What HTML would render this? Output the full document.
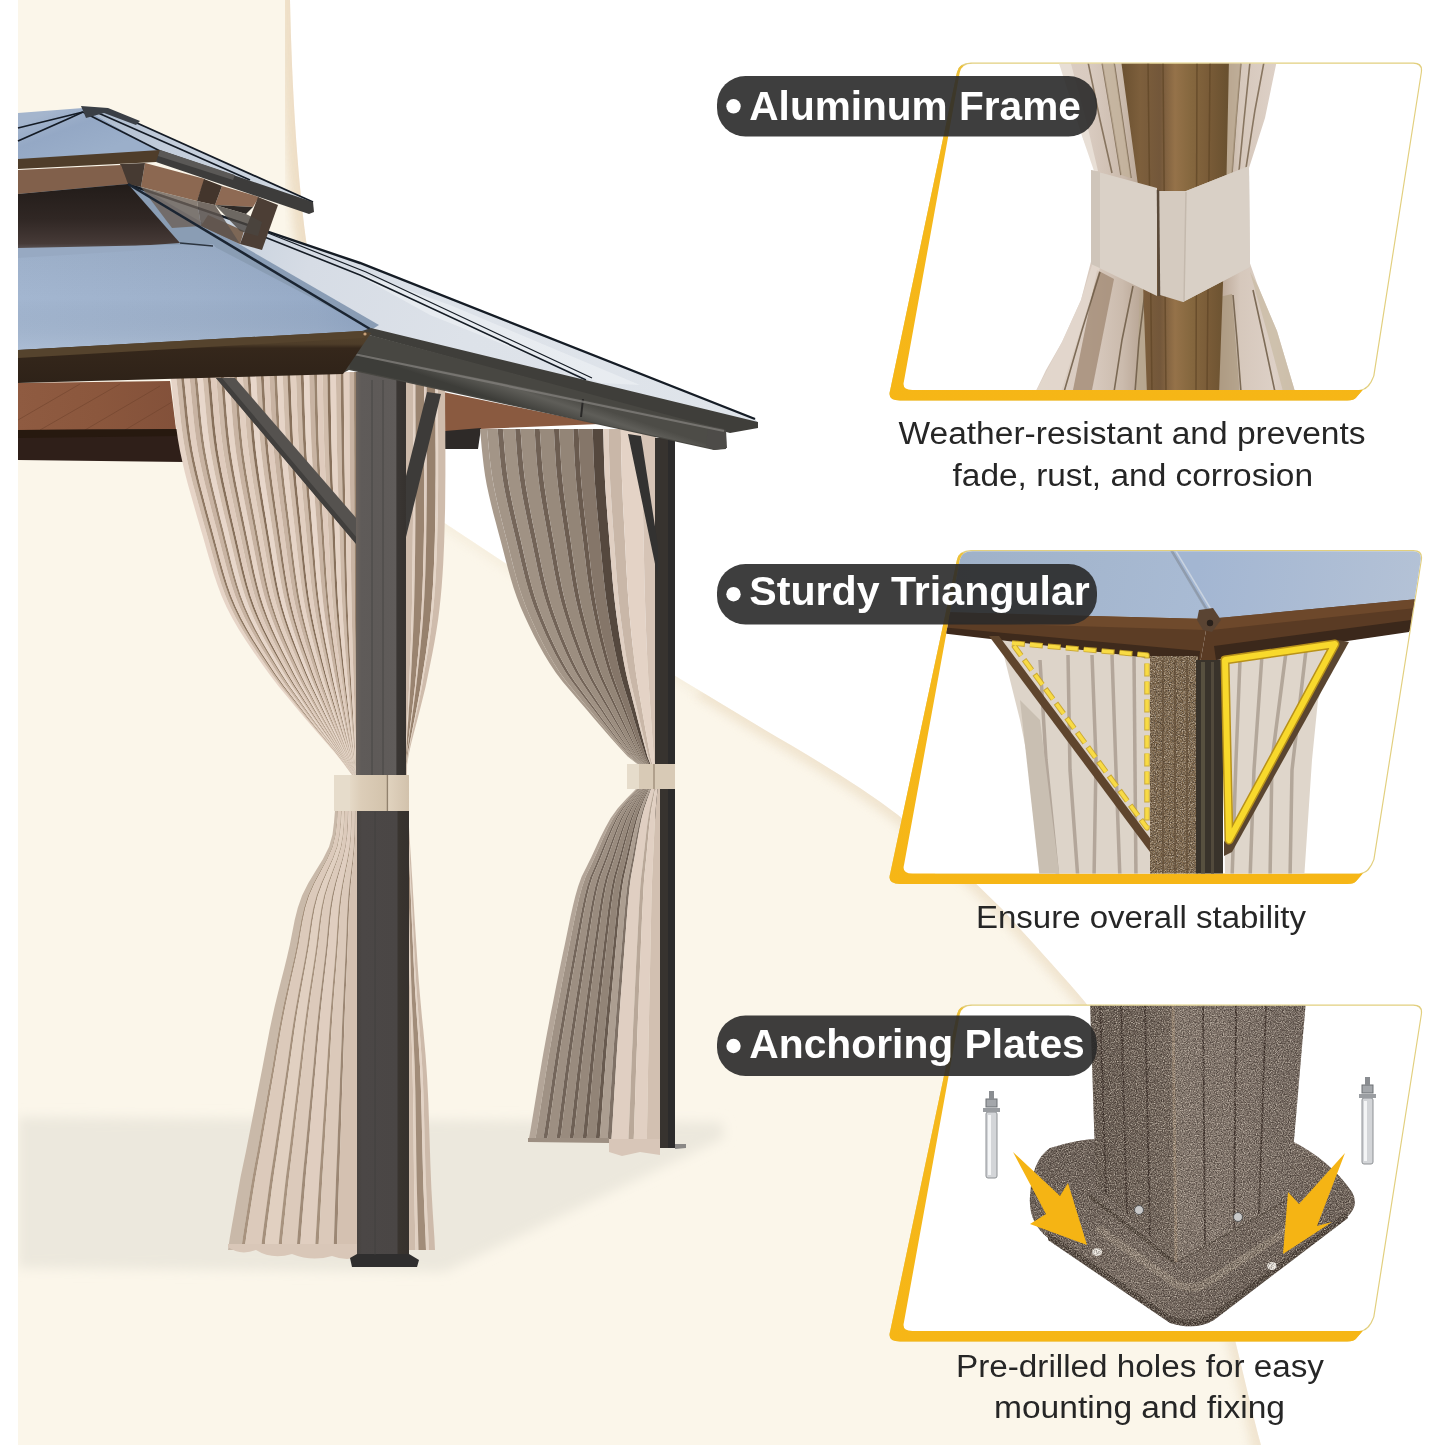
<!DOCTYPE html>
<html><head><meta charset="utf-8"><title>Gazebo features</title>
<style>
html,body{margin:0;padding:0;background:#ffffff;}
body{width:1445px;height:1445px;overflow:hidden;position:relative;font-family:"Liberation Sans",sans-serif;}
svg{position:absolute;left:0;top:0;display:block;}
text{font-family:"Liberation Sans",sans-serif;}
</style></head>
<body>
<svg width="1445" height="1445" viewBox="0 0 1445 1445">
<defs>
<filter id="blur8" x="-10%" y="-30%" width="120%" height="160%"><feGaussianBlur stdDeviation="6"/></filter>
<filter id="blur5" x="-20%" y="-20%" width="140%" height="140%"><feGaussianBlur stdDeviation="5"/></filter>
<filter id="blur3"><feGaussianBlur stdDeviation="3"/></filter>
<filter id="blur1"><feGaussianBlur stdDeviation="1.2"/></filter>
<clipPath id="creamClip"><path d="M290,0 C292,90 297,170 306,240 C325,370 385,470 440,520 L677,677 L760,727 C810,756 860,786 898,815 C940,850 975,882 1002,909 C1030,940 1060,972 1085,1002 C1150,1090 1210,1230 1236,1344 C1246,1385 1254,1420 1261,1445 L18,1445 L18,0 Z"/></clipPath>
</defs>
<rect x="0" y="0" width="1445" height="1445" fill="#ffffff"/>
<g clip-path="url(#creamClip)">
<rect x="18" y="0" width="1300" height="1445" fill="#fbf6ea"/>
<path d="M292,-10 C294,90 299,170 308,240 C312,270 318,300 326,330" fill="none" stroke="#ecdcc2" stroke-width="26" filter="url(#blur5)" opacity="0.9"/>
<path d="M700,690 L760,727 C810,756 860,786 898,815 C940,850 975,882 1002,909 C1030,940 1060,972 1085,1002 C1150,1090 1210,1230 1236,1344 C1246,1385 1254,1420 1261,1455" fill="none" stroke="#eddfc7" stroke-width="16" filter="url(#blur5)" opacity="0.75"/>
<path d="M440,520 L700,690" fill="none" stroke="#f2e7d3" stroke-width="12" filter="url(#blur5)" opacity="0.5"/>
<path d="M18,1117 L722,1122 L724,1138 L445,1272 L18,1268 Z" fill="#ece8dd" filter="url(#blur8)"/>
</g>
<defs>
<linearGradient id="roofL" gradientUnits="userSpaceOnUse" x1="18" y1="300" x2="370" y2="300">
 <stop offset="0" stop-color="#a3b6d0"/><stop offset="0.5" stop-color="#9eb1cb"/><stop offset="0.85" stop-color="#97abc7"/><stop offset="1" stop-color="#8fa4c2"/>
</linearGradient>
<linearGradient id="roofLv" x1="0" y1="0" x2="0" y2="1">
 <stop offset="0" stop-color="#2b3a4c" stop-opacity="0.06"/><stop offset="0.5" stop-color="#2b3a4c" stop-opacity="0.0"/><stop offset="1" stop-color="#dfe8f2" stop-opacity="0.15"/>
</linearGradient>
<linearGradient id="roofR" gradientUnits="userSpaceOnUse" x1="200" y1="230" x2="740" y2="420">
 <stop offset="0" stop-color="#c4cfdc"/><stop offset="0.2" stop-color="#d6dce5"/><stop offset="0.5" stop-color="#dde2e9"/><stop offset="1" stop-color="#dfe4ea"/>
</linearGradient>
<linearGradient id="upF" gradientUnits="userSpaceOnUse" x1="60" y1="108" x2="80" y2="160">
 <stop offset="0" stop-color="#a4b5cd"/><stop offset="0.4" stop-color="#94a8c5"/><stop offset="1" stop-color="#9bafca"/>
</linearGradient>
<linearGradient id="upR" gradientUnits="userSpaceOnUse" x1="90" y1="110" x2="310" y2="210">
 <stop offset="0" stop-color="#a9b9cd"/><stop offset="0.35" stop-color="#c3cddb"/><stop offset="1" stop-color="#d2dae3"/>
</linearGradient>
<linearGradient id="darkGlass" x1="0" y1="0" x2="0" y2="1">
 <stop offset="0" stop-color="#221c19"/><stop offset="0.5" stop-color="#302724"/><stop offset="0.85" stop-color="#463a37"/><stop offset="1" stop-color="#6d6b70"/>
</linearGradient>
<linearGradient id="wood" x1="0" y1="0" x2="1" y2="0">
 <stop offset="0" stop-color="#8f5b41"/><stop offset="0.5" stop-color="#8b573d"/><stop offset="1" stop-color="#83513a"/>
</linearGradient>
<linearGradient id="beamL" x1="0" y1="0" x2="0" y2="1">
 <stop offset="0" stop-color="#54422c"/><stop offset="0.25" stop-color="#4e3d29"/><stop offset="0.33" stop-color="#35271b"/><stop offset="1" stop-color="#2e2218"/>
</linearGradient>
<linearGradient id="gutter" gradientUnits="userSpaceOnUse" x1="540" y1="388" x2="532" y2="412">
 <stop offset="0" stop-color="#4d4c47"/><stop offset="0.35" stop-color="#5f5e59"/><stop offset="1" stop-color="#3d3d39"/>
</linearGradient>
<linearGradient id="post1" gradientUnits="userSpaceOnUse" x1="356" y1="0" x2="408" y2="0">
 <stop offset="0" stop-color="#6a625c"/><stop offset="0.1" stop-color="#5f5b59"/><stop offset="0.4" stop-color="#5e5a58"/><stop offset="0.76" stop-color="#605c5a"/><stop offset="0.79" stop-color="#3a3633"/><stop offset="1" stop-color="#35312e"/>
</linearGradient>
<linearGradient id="post1b" gradientUnits="userSpaceOnUse" x1="357" y1="0" x2="409" y2="0">
 <stop offset="0" stop-color="#46423f"/><stop offset="0.1" stop-color="#4b4746"/><stop offset="0.76" stop-color="#4a4645"/><stop offset="0.8" stop-color="#39342f"/><stop offset="1" stop-color="#36312d"/>
</linearGradient>
<linearGradient id="tie" x1="0" y1="0" x2="1" y2="0">
 <stop offset="0" stop-color="#e6dac8"/><stop offset="0.2" stop-color="#dccdb8"/><stop offset="0.62" stop-color="#d3c3ac"/><stop offset="0.64" stop-color="#8a7a66"/><stop offset="0.66" stop-color="#e0d2be"/><stop offset="1" stop-color="#d2c2ac"/>
</linearGradient>
</defs>
<polygon points="18,194 128,183 360,263 755,419 758,424 724,429 371,330 362,332 18,351" fill="#8a9db4"/>
<polygon points="127,184 360,263 755,419 758,424 724,429 371,330" fill="url(#roofR)"/>
<polygon points="127,184 137,185 379,325 371,330" fill="#8a9db5"/>
<polygon points="345,268 450,305 640,385 600,383 430,315" fill="#eef1f5" opacity="0.6"/>
<g stroke="#151c25" fill="none"><polyline points="127,184 360,263 755,419" stroke-width="2.4"/><polyline points="262,236 360,275 586,380" stroke-width="1.6"/><polyline points="268,233 366,272 592,378" stroke-width="1.2"/></g>
<polygon points="145,163 205,179 197,201 141,187" fill="#8c6851"/>
<polygon points="222,186 259,197 253,207 215,205" fill="#8e6a54"/>
<polygon points="208,215 244,231 240,244 201,226" fill="#7d6756"/>
<polygon points="141,187 197,201 201,226 172,228" fill="#6b6058" opacity="0.8"/>
<polygon points="120,164 145,163 141,187 127,184" fill="#463a32"/>
<polygon points="204,179 222,186 215,205 197,201" fill="#43352c"/>
<polygon points="258,197 278,205 262,250 240,244" fill="#4c3e35"/>
<polygon points="215,205 253,207 246,214" fill="#2f2a27"/>
<polygon points="197,201 215,205 240,244 201,226" fill="#5d544d" opacity="0.85"/>
<polygon points="215,205 246,214 262,222 258,236 240,231" fill="#4a4540" opacity="0.8"/>
<polygon points="83,108 108,110 313,202 313,204 160,151" fill="url(#upR)"/>
<polygon points="18,113 83,108 160,151 18,160" fill="url(#upF)"/>
<g stroke="#141b25" stroke-width="1.8" fill="none"><polyline points="18,128 83,112"/><polyline points="18,141 70,118 83,112"/><polyline points="83,112 160,151"/><polyline points="108,110 313,202"/><polyline points="96,112 180,149 250,180"/></g>
<polygon points="81,106 108,108 140,121 136,125 104,113 86,118" fill="#3a3f46"/>
<polygon points="18,159 160,150 164,154 156,162 18,169" fill="#4f3d2a"/>
<polygon points="160,150 313,202 314,212 309,214 156,162" fill="#3d3c3b"/>
<polygon points="160,150 235,175 233,180 158,156" fill="#5a5856"/>
<polygon points="18,170 121,165 128,184 18,194" fill="#81604b"/>
<polygon points="18,194 128,184 180,243 18,254" fill="url(#darkGlass)"/>
<polygon points="18,248 213,244 217,249 18,259" fill="#97a9c2"/>
<polygon points="18,258 213,246 371,329 362,332 18,351" fill="url(#roofL)"/>
<polygon points="18,258 213,246 371,329 362,332 18,351" fill="url(#roofLv)"/>
<polyline points="128,184 370,329" stroke="#1b2532" stroke-width="2.6" fill="none"/>
<polyline points="180,243 213,246" stroke="#2c3540" stroke-width="1.5" fill="none"/>
<polygon points="18,383 170,381 176,429 18,431" fill="url(#wood)"/>
<g stroke="#6e422c" stroke-width="1" opacity="0.55" fill="none"><line x1="18" y1="420" x2="80" y2="384"/><line x1="40" y1="430" x2="120" y2="384"/><line x1="85" y1="430" x2="160" y2="386"/><line x1="125" y1="430" x2="172" y2="402"/></g>
<polygon points="18,430 177,429 184,462 18,460" fill="#2f1f19"/>
<polygon points="18,430 177,429 178,436 18,438" fill="#27190f"/>
<polygon points="443,392 600,424 480,429 445,432" fill="#8a5a40"/>
<polygon points="445,431 481,428 478,449 445,449" fill="#2e2a28"/>
<polygon points="480.0,429.0 480.9,438.4 481.7,447.7 482.7,457.1 483.8,466.4 485.1,475.8 486.8,485.2 488.8,494.5 491.0,503.9 493.3,513.2 495.8,522.6 498.3,532.0 500.8,541.3 503.3,550.7 505.7,560.1 508.2,569.4 510.8,578.8 513.6,588.1 516.9,597.5 520.6,606.9 524.7,616.2 529.0,625.6 533.6,634.9 538.5,644.3 543.8,653.7 549.4,663.0 555.7,672.4 562.7,681.8 570.6,691.1 578.7,700.5 586.7,709.8 594.7,719.2 602.7,728.6 610.9,737.9 619.2,747.3 627.7,756.6 640.0,766.0 640.6,766.0 628.9,756.6 620.7,747.3 612.7,737.9 604.9,728.6 597.1,719.2 589.5,709.8 581.8,700.5 574.0,691.1 566.5,681.8 559.7,672.4 553.7,663.0 548.3,653.7 543.2,644.3 538.5,634.9 534.1,625.6 529.9,616.2 526.0,606.9 522.5,597.5 519.3,588.1 516.6,578.8 514.1,569.4 511.7,560.1 509.4,550.7 507.0,541.3 504.6,532.0 502.2,522.6 499.9,513.2 497.6,503.9 495.5,494.5 493.6,485.2 492.0,475.8 490.7,466.4 489.6,457.1 488.7,447.7 487.9,438.4 487.0,429.0" fill="#a89a8c"/>
<polygon points="487.0,429.0 487.9,438.4 488.7,447.7 489.6,457.1 490.7,466.4 492.0,475.8 493.6,485.2 495.5,494.5 497.6,503.9 499.9,513.2 502.2,522.6 504.6,532.0 507.0,541.3 509.4,550.7 511.7,560.1 514.1,569.4 516.6,578.8 519.3,588.1 522.5,597.5 526.0,606.9 529.9,616.2 534.1,625.6 538.5,634.9 543.2,644.3 548.3,653.7 553.7,663.0 559.7,672.4 566.5,681.8 574.0,691.1 581.8,700.5 589.5,709.8 597.1,719.2 604.9,728.6 612.7,737.9 620.7,747.3 628.9,756.6 640.6,766.0 641.6,766.0 630.6,756.6 622.9,747.3 615.4,737.9 608.1,728.6 600.8,719.2 593.6,709.8 586.4,700.5 579.1,691.1 572.1,681.8 565.7,672.4 560.1,663.0 555.0,653.7 550.3,644.3 545.8,634.9 541.7,625.6 537.8,616.2 534.1,606.9 530.8,597.5 527.9,588.1 525.3,578.8 523.0,569.4 520.7,560.1 518.6,550.7 516.3,541.3 514.1,532.0 511.8,522.6 509.6,513.2 507.5,503.9 505.5,494.5 503.7,485.2 502.2,475.8 501.0,466.4 500.0,457.1 499.2,447.7 498.4,438.4 497.6,429.0" fill="#a39587"/>
<polygon points="497.6,429.0 498.4,438.4 499.2,447.7 500.0,457.1 501.0,466.4 502.2,475.8 503.7,485.2 505.5,494.5 507.5,503.9 509.6,513.2 511.8,522.6 514.1,532.0 516.3,541.3 518.6,550.7 520.7,560.1 523.0,569.4 525.3,578.8 527.9,588.1 530.8,597.5 534.1,606.9 537.8,616.2 541.7,625.6 545.8,634.9 550.3,644.3 555.0,653.7 560.1,663.0 565.7,672.4 572.1,681.8 579.1,691.1 586.4,700.5 593.6,709.8 600.8,719.2 608.1,728.6 615.4,737.9 622.9,747.3 630.6,756.6 641.6,766.0 642.1,766.0 631.4,756.6 624.0,747.3 616.8,737.9 609.7,728.6 602.6,719.2 595.7,709.8 588.7,700.5 581.7,691.1 574.9,681.8 568.7,672.4 563.3,663.0 558.4,653.7 553.8,644.3 549.5,634.9 545.5,625.6 541.7,616.2 538.2,606.9 535.0,597.5 532.2,588.1 529.7,578.8 527.4,569.4 525.2,560.1 523.1,550.7 521.0,541.3 518.8,532.0 516.6,522.6 514.5,513.2 512.5,503.9 510.5,494.5 508.8,485.2 507.3,475.8 506.2,466.4 505.2,457.1 504.4,447.7 503.7,438.4 502.9,429.0" fill="#75665a"/>
<polygon points="502.9,429.0 503.7,438.4 504.4,447.7 505.2,457.1 506.2,466.4 507.3,475.8 508.8,485.2 510.5,494.5 512.5,503.9 514.5,513.2 516.6,522.6 518.8,532.0 521.0,541.3 523.1,550.7 525.2,560.1 527.4,569.4 529.7,578.8 532.2,588.1 535.0,597.5 538.2,606.9 541.7,616.2 545.5,625.6 549.5,634.9 553.8,644.3 558.4,653.7 563.3,663.0 568.7,672.4 574.9,681.8 581.7,691.1 588.7,700.5 595.7,709.8 602.6,719.2 609.7,728.6 616.8,737.9 624.0,747.3 631.4,756.6 642.1,766.0 643.2,766.0 633.4,756.6 626.6,747.3 619.9,737.9 613.4,728.6 606.9,719.2 600.6,709.8 594.1,700.5 587.6,691.1 581.4,681.8 575.7,672.4 570.7,663.0 566.2,653.7 562.0,644.3 558.1,634.9 554.4,625.6 550.9,616.2 547.7,606.9 544.7,597.5 542.1,588.1 539.8,578.8 537.7,569.4 535.8,560.1 533.8,550.7 531.9,541.3 529.8,532.0 527.8,522.6 525.9,513.2 524.0,503.9 522.2,494.5 520.7,485.2 519.3,475.8 518.2,466.4 517.3,457.1 516.6,447.7 515.9,438.4 515.2,429.0" fill="#a09284"/>
<polygon points="515.2,429.0 515.9,438.4 516.6,447.7 517.3,457.1 518.2,466.4 519.3,475.8 520.7,485.2 522.2,494.5 524.0,503.9 525.9,513.2 527.8,522.6 529.8,532.0 531.9,541.3 533.8,550.7 535.8,560.1 537.7,569.4 539.8,578.8 542.1,588.1 544.7,597.5 547.7,606.9 550.9,616.2 554.4,625.6 558.1,634.9 562.0,644.3 566.2,653.7 570.7,663.0 575.7,672.4 581.4,681.8 587.6,691.1 594.1,700.5 600.6,709.8 606.9,719.2 613.4,728.6 619.9,737.9 626.6,747.3 633.4,756.6 643.2,766.0 643.7,766.0 634.2,756.6 627.7,747.3 621.3,737.9 615.0,728.6 608.8,719.2 602.6,709.8 596.5,700.5 590.2,691.1 584.2,681.8 578.7,672.4 573.9,663.0 569.6,653.7 565.6,644.3 561.8,634.9 558.2,625.6 554.9,616.2 551.7,606.9 548.9,597.5 546.4,588.1 544.2,578.8 542.2,569.4 540.3,560.1 538.4,550.7 536.5,541.3 534.6,532.0 532.6,522.6 530.8,513.2 529.0,503.9 527.3,494.5 525.7,485.2 524.4,475.8 523.4,466.4 522.5,457.1 521.8,447.7 521.2,438.4 520.5,429.0" fill="#726357"/>
<polygon points="520.5,429.0 521.2,438.4 521.8,447.7 522.5,457.1 523.4,466.4 524.4,475.8 525.7,485.2 527.3,494.5 529.0,503.9 530.8,513.2 532.6,522.6 534.6,532.0 536.5,541.3 538.4,550.7 540.3,560.1 542.2,569.4 544.2,578.8 546.4,588.1 548.9,597.5 551.7,606.9 554.9,616.2 558.2,625.6 561.8,634.9 565.6,644.3 569.6,653.7 573.9,663.0 578.7,672.4 584.2,681.8 590.2,691.1 596.5,700.5 602.6,709.8 608.8,719.2 615.0,728.6 621.3,737.9 627.7,747.3 634.2,756.6 643.7,766.0 645.0,766.0 636.5,756.6 630.6,747.3 624.9,737.9 619.2,728.6 613.7,719.2 608.2,709.8 602.6,700.5 597.0,691.1 591.6,681.8 586.8,672.4 582.4,663.0 578.6,653.7 575.0,644.3 571.5,634.9 568.4,625.6 565.4,616.2 562.6,606.9 560.0,597.5 557.8,588.1 555.8,578.8 554.0,569.4 552.3,560.1 550.6,550.7 548.9,541.3 547.2,532.0 545.5,522.6 543.8,513.2 542.2,503.9 540.6,494.5 539.3,485.2 538.1,475.8 537.2,466.4 536.4,457.1 535.8,447.7 535.2,438.4 534.6,429.0" fill="#9c8e80"/>
<polygon points="534.6,429.0 535.2,438.4 535.8,447.7 536.4,457.1 537.2,466.4 538.1,475.8 539.3,485.2 540.6,494.5 542.2,503.9 543.8,513.2 545.5,522.6 547.2,532.0 548.9,541.3 550.6,550.7 552.3,560.1 554.0,569.4 555.8,578.8 557.8,588.1 560.0,597.5 562.6,606.9 565.4,616.2 568.4,625.6 571.5,634.9 575.0,644.3 578.6,653.7 582.4,663.0 586.8,672.4 591.6,681.8 597.0,691.1 602.6,700.5 608.2,709.8 613.7,719.2 619.2,728.6 624.9,737.9 630.6,747.3 636.5,756.6 645.0,766.0 645.4,766.0 637.3,756.6 631.7,747.3 626.2,737.9 620.8,728.6 615.5,719.2 610.3,709.8 605.0,700.5 599.6,691.1 594.4,681.8 589.8,672.4 585.6,663.0 581.9,653.7 578.5,644.3 575.2,634.9 572.2,625.6 569.3,616.2 566.6,606.9 564.2,597.5 562.0,588.1 560.2,578.8 558.4,569.4 556.8,560.1 555.2,550.7 553.6,541.3 551.9,532.0 550.3,522.6 548.6,513.2 547.1,503.9 545.7,494.5 544.3,485.2 543.2,475.8 542.3,466.4 541.6,457.1 541.0,447.7 540.4,438.4 539.8,429.0" fill="#6f6054"/>
<polygon points="539.8,429.0 540.4,438.4 541.0,447.7 541.6,457.1 542.3,466.4 543.2,475.8 544.3,485.2 545.7,494.5 547.1,503.9 548.6,513.2 550.3,522.6 551.9,532.0 553.6,541.3 555.2,550.7 556.8,560.1 558.4,569.4 560.2,578.8 562.0,588.1 564.2,597.5 566.6,606.9 569.3,616.2 572.2,625.6 575.2,634.9 578.5,644.3 581.9,653.7 585.6,663.0 589.8,672.4 594.4,681.8 599.6,691.1 605.0,700.5 610.3,709.8 615.5,719.2 620.8,728.6 626.2,737.9 631.7,747.3 637.3,756.6 645.4,766.0 646.7,766.0 639.6,756.6 634.7,747.3 629.9,737.9 625.1,728.6 620.4,719.2 615.8,709.8 611.2,700.5 606.4,691.1 601.9,681.8 597.8,672.4 594.2,663.0 590.9,653.7 587.9,644.3 585.0,634.9 582.3,625.6 579.8,616.2 577.5,606.9 575.3,597.5 573.4,588.1 571.8,578.8 570.3,569.4 568.8,560.1 567.4,550.7 566.0,541.3 564.5,532.0 563.1,522.6 561.7,513.2 560.3,503.9 559.0,494.5 557.9,485.2 556.9,475.8 556.1,466.4 555.5,457.1 554.9,447.7 554.4,438.4 553.9,429.0" fill="#988a7c"/>
<polygon points="553.9,429.0 554.4,438.4 554.9,447.7 555.5,457.1 556.1,466.4 556.9,475.8 557.9,485.2 559.0,494.5 560.3,503.9 561.7,513.2 563.1,522.6 564.5,532.0 566.0,541.3 567.4,550.7 568.8,560.1 570.3,569.4 571.8,578.8 573.4,588.1 575.3,597.5 577.5,606.9 579.8,616.2 582.3,625.6 585.0,634.9 587.9,644.3 590.9,653.7 594.2,663.0 597.8,672.4 601.9,681.8 606.4,691.1 611.2,700.5 615.8,709.8 620.4,719.2 625.1,728.6 629.9,737.9 634.7,747.3 639.6,756.6 646.7,766.0 647.2,766.0 640.5,756.6 635.8,747.3 631.2,737.9 626.7,728.6 622.3,719.2 617.9,709.8 613.5,700.5 609.0,691.1 604.7,681.8 600.8,672.4 597.4,663.0 594.3,653.7 591.4,644.3 588.7,634.9 586.1,625.6 583.8,616.2 581.5,606.9 579.5,597.5 577.7,588.1 576.1,578.8 574.7,569.4 573.3,560.1 572.0,550.7 570.7,541.3 569.3,532.0 567.9,522.6 566.5,513.2 565.3,503.9 564.0,494.5 563.0,485.2 562.0,475.8 561.3,466.4 560.7,457.1 560.2,447.7 559.7,438.4 559.2,429.0" fill="#6c5d51"/>
<polygon points="559.2,429.0 559.7,438.4 560.2,447.7 560.7,457.1 561.3,466.4 562.0,475.8 563.0,485.2 564.0,494.5 565.3,503.9 566.5,513.2 567.9,522.6 569.3,532.0 570.7,541.3 572.0,550.7 573.3,560.1 574.7,569.4 576.1,578.8 577.7,588.1 579.5,597.5 581.5,606.9 583.8,616.2 586.1,625.6 588.7,634.9 591.4,644.3 594.3,653.7 597.4,663.0 600.8,672.4 604.7,681.8 609.0,691.1 613.5,700.5 617.9,709.8 622.3,719.2 626.7,728.6 631.2,737.9 635.8,747.3 640.5,756.6 647.2,766.0 648.5,766.0 642.7,756.6 638.7,747.3 634.8,737.9 631.0,728.6 627.2,719.2 623.4,709.8 619.7,700.5 615.8,691.1 612.2,681.8 608.8,672.4 605.9,663.0 603.3,653.7 600.8,644.3 598.5,634.9 596.3,625.6 594.3,616.2 592.4,606.9 590.6,597.5 589.1,588.1 587.7,578.8 586.5,569.4 585.4,560.1 584.2,550.7 583.1,541.3 581.9,532.0 580.7,522.6 579.6,513.2 578.5,503.9 577.4,494.5 576.5,485.2 575.7,475.8 575.1,466.4 574.5,457.1 574.1,447.7 573.7,438.4 573.3,429.0" fill="#938577"/>
<polygon points="573.3,429.0 573.7,438.4 574.1,447.7 574.5,457.1 575.1,466.4 575.7,475.8 576.5,485.2 577.4,494.5 578.5,503.9 579.6,513.2 580.7,522.6 581.9,532.0 583.1,541.3 584.2,550.7 585.4,560.1 586.5,569.4 587.7,578.8 589.1,588.1 590.6,597.5 592.4,606.9 594.3,616.2 596.3,625.6 598.5,634.9 600.8,644.3 603.3,653.7 605.9,663.0 608.8,672.4 612.2,681.8 615.8,691.1 619.7,700.5 623.4,709.8 627.2,719.2 631.0,728.6 634.8,737.9 638.7,747.3 642.7,756.6 648.5,766.0 649.0,766.0 643.6,756.6 639.8,747.3 636.2,737.9 632.6,728.6 629.0,719.2 625.5,709.8 622.0,700.5 618.4,691.1 615.0,681.8 611.9,672.4 609.1,663.0 606.6,653.7 604.3,644.3 602.1,634.9 600.1,625.6 598.2,616.2 596.4,606.9 594.8,597.5 593.4,588.1 592.1,578.8 591.0,569.4 589.9,560.1 588.8,550.7 587.7,541.3 586.6,532.0 585.5,522.6 584.4,513.2 583.4,503.9 582.4,494.5 581.6,485.2 580.8,475.8 580.2,466.4 579.7,457.1 579.3,447.7 579.0,438.4 578.6,429.0" fill="#695a4e"/>
<polygon points="578.6,429.0 579.0,438.4 579.3,447.7 579.7,457.1 580.2,466.4 580.8,475.8 581.6,485.2 582.4,494.5 583.4,503.9 584.4,513.2 585.5,522.6 586.6,532.0 587.7,541.3 588.8,550.7 589.9,560.1 591.0,569.4 592.1,578.8 593.4,588.1 594.8,597.5 596.4,606.9 598.2,616.2 600.1,625.6 602.1,634.9 604.3,644.3 606.6,653.7 609.1,663.0 611.9,672.4 615.0,681.8 618.4,691.1 622.0,700.5 625.5,709.8 629.0,719.2 632.6,728.6 636.2,737.9 639.8,747.3 643.6,756.6 649.0,766.0 650.2,766.0 645.8,756.6 642.8,747.3 639.8,737.9 636.8,728.6 633.9,719.2 631.1,709.8 628.2,700.5 625.2,691.1 622.4,681.8 619.9,672.4 617.6,663.0 615.6,653.7 613.7,644.3 611.9,634.9 610.3,625.6 608.7,616.2 607.3,606.9 605.9,597.5 604.8,588.1 603.7,578.8 602.8,569.4 601.9,560.1 601.0,550.7 600.1,541.3 599.2,532.0 598.3,522.6 597.4,513.2 596.6,503.9 595.8,494.5 595.1,485.2 594.5,475.8 594.0,466.4 593.6,457.1 593.3,447.7 593.0,438.4 592.6,429.0" fill="#857669"/>
<polygon points="592.6,429.0 593.0,438.4 593.3,447.7 593.6,457.1 594.0,466.4 594.5,475.8 595.1,485.2 595.8,494.5 596.6,503.9 597.4,513.2 598.3,522.6 599.2,532.0 600.1,541.3 601.0,550.7 601.9,560.1 602.8,569.4 603.7,578.8 604.8,588.1 605.9,597.5 607.3,606.9 608.7,616.2 610.3,625.6 611.9,634.9 613.7,644.3 615.6,653.7 617.6,663.0 619.9,672.4 622.4,681.8 625.2,691.1 628.2,700.5 631.1,709.8 633.9,719.2 636.8,728.6 639.8,737.9 642.8,747.3 645.8,756.6 650.2,766.0 651.2,766.0 647.5,756.6 645.0,747.3 642.5,737.9 640.0,728.6 637.6,719.2 635.2,709.8 632.8,700.5 630.4,691.1 628.0,681.8 625.9,672.4 624.0,663.0 622.3,653.7 620.8,644.3 619.3,634.9 617.9,625.6 616.6,616.2 615.4,606.9 614.3,597.5 613.3,588.1 612.4,578.8 611.7,569.4 610.9,560.1 610.2,550.7 609.4,541.3 608.7,532.0 607.9,522.6 607.2,513.2 606.5,503.9 605.8,494.5 605.2,485.2 604.7,475.8 604.3,466.4 604.0,457.1 603.7,447.7 603.5,438.4 603.2,429.0" fill="#55483e"/>
<polygon points="603.2,429.0 603.5,438.4 603.7,447.7 604.0,457.1 604.3,466.4 604.7,475.8 605.2,485.2 605.8,494.5 606.5,503.9 607.2,513.2 607.9,522.6 608.7,532.0 609.4,541.3 610.2,550.7 610.9,560.1 611.7,569.4 612.4,578.8 613.3,588.1 614.3,597.5 615.4,606.9 616.6,616.2 617.9,625.6 619.3,634.9 620.8,644.3 622.3,653.7 624.0,663.0 625.9,672.4 628.0,681.8 630.4,691.1 632.8,700.5 635.2,709.8 637.6,719.2 640.0,728.6 642.5,737.9 645.0,747.3 647.5,756.6 651.2,766.0 651.7,766.0 648.4,756.6 646.1,747.3 643.8,737.9 641.6,728.6 639.4,719.2 637.3,709.8 635.1,700.5 632.9,691.1 630.8,681.8 628.9,672.4 627.2,663.0 625.7,653.7 624.3,644.3 623.0,634.9 621.7,625.6 620.5,616.2 619.4,606.9 618.4,597.5 617.6,588.1 616.8,578.8 616.1,569.4 615.4,560.1 614.8,550.7 614.1,541.3 613.4,532.0 612.7,522.6 612.1,513.2 611.5,503.9 610.9,494.5 610.3,485.2 609.9,475.8 609.5,466.4 609.2,457.1 608.9,447.7 608.7,438.4 608.5,429.0" fill="#e0cfc2"/>
<polygon points="608.5,429.0 608.7,438.4 608.9,447.7 609.2,457.1 609.5,466.4 609.9,475.8 610.3,485.2 610.9,494.5 611.5,503.9 612.1,513.2 612.7,522.6 613.4,532.0 614.1,541.3 614.8,550.7 615.4,560.1 616.1,569.4 616.8,578.8 617.6,588.1 618.4,597.5 619.4,606.9 620.5,616.2 621.7,625.6 623.0,634.9 624.3,644.3 625.7,653.7 627.2,663.0 628.9,672.4 630.8,681.8 632.9,691.1 635.1,700.5 637.3,709.8 639.4,719.2 641.6,728.6 643.8,737.9 646.1,747.3 648.4,756.6 651.7,766.0 652.8,766.0 650.3,756.6 648.6,747.3 647.0,737.9 645.3,728.6 643.7,719.2 642.1,709.8 640.5,700.5 638.9,691.1 637.3,681.8 635.9,672.4 634.7,663.0 633.6,653.7 632.5,644.3 631.5,634.9 630.6,625.6 629.7,616.2 628.9,606.9 628.2,597.5 627.5,588.1 627.0,578.8 626.4,569.4 625.9,560.1 625.5,550.7 625.0,541.3 624.5,532.0 624.0,522.6 623.5,513.2 623.0,503.9 622.6,494.5 622.2,485.2 621.8,475.8 621.6,466.4 621.3,457.1 621.1,447.7 621.0,438.4 620.8,429.0" fill="#c9b7a8"/>
<polygon points="620.8,429.0 621.0,438.4 621.1,447.7 621.3,457.1 621.6,466.4 621.8,475.8 622.2,485.2 622.6,494.5 623.0,503.9 623.5,513.2 624.0,522.6 624.5,532.0 625.0,541.3 625.5,550.7 625.9,560.1 626.4,569.4 627.0,578.8 627.5,588.1 628.2,597.5 628.9,606.9 629.7,616.2 630.6,625.6 631.5,634.9 632.5,644.3 633.6,653.7 634.7,663.0 635.9,672.4 637.3,681.8 638.9,691.1 640.5,700.5 642.1,709.8 643.7,719.2 645.3,728.6 647.0,737.9 648.6,747.3 650.3,756.6 652.8,766.0 654.7,766.0 653.7,756.6 653.1,747.3 652.4,737.9 651.7,728.6 651.1,719.2 650.5,709.8 649.8,700.5 649.2,691.1 648.5,681.8 648.0,672.4 647.5,663.0 647.0,653.7 646.6,644.3 646.2,634.9 645.8,625.6 645.5,616.2 645.2,606.9 644.9,597.5 644.6,588.1 644.4,578.8 644.2,569.4 644.0,560.1 643.8,550.7 643.6,541.3 643.4,532.0 643.2,522.6 643.0,513.2 642.8,503.9 642.6,494.5 642.5,485.2 642.3,475.8 642.2,466.4 642.1,457.1 642.1,447.7 642.0,438.4 641.9,429.0" fill="#e4d3c6"/>
<polygon points="641.9,429.0 642.0,438.4 642.1,447.7 642.1,457.1 642.2,466.4 642.3,475.8 642.5,485.2 642.6,494.5 642.8,503.9 643.0,513.2 643.2,522.6 643.4,532.0 643.6,541.3 643.8,550.7 644.0,560.1 644.2,569.4 644.4,578.8 644.6,588.1 644.9,597.5 645.2,606.9 645.5,616.2 645.8,625.6 646.2,634.9 646.6,644.3 647.0,653.7 647.5,663.0 648.0,672.4 648.5,681.8 649.2,691.1 649.8,700.5 650.5,709.8 651.1,719.2 651.7,728.6 652.4,737.9 653.1,747.3 653.7,756.6 654.7,766.0 656.0,766.0 656.0,756.6 656.0,747.3 656.0,737.9 656.0,728.6 656.0,719.2 656.0,709.8 656.0,700.5 656.0,691.1 656.0,681.8 656.0,672.4 656.0,663.0 656.0,653.7 656.0,644.3 656.0,634.9 656.0,625.6 656.0,616.2 656.0,606.9 656.0,597.5 656.0,588.1 656.0,578.8 656.0,569.4 656.0,560.1 656.0,550.7 656.0,541.3 656.0,532.0 656.0,522.6 656.0,513.2 656.0,503.9 656.0,494.5 656.0,485.2 656.0,475.8 656.0,466.4 656.0,457.1 656.0,447.7 656.0,438.4 656.0,429.0" fill="#d6c4b6"/>
<polygon points="478,420 660,420 660,441 600,424 480,429" fill="#ffffff" opacity="0"/>
<rect x="655" y="438" width="20" height="710" fill="#37332f"/>
<rect x="668" y="438" width="7" height="710" fill="#2c2b2b"/>
<polygon points="675,1144 686,1144 686,1148 675,1149" fill="#8a8886"/>
<polygon points="628,434 641,436 658,546 658,578 650,540" fill="#333231"/>
<rect x="627" y="764" width="48" height="25" fill="#d8cab6"/>
<rect x="627" y="764" width="12" height="25" fill="#e6dccb"/>
<rect x="653" y="764" width="2" height="25" fill="#b0a08c"/>
<polygon points="636.0,789.0 626.4,798.8 617.6,808.5 610.6,818.2 605.2,828.0 600.3,837.8 595.8,847.5 591.3,857.2 586.5,867.0 581.6,876.8 578.1,886.5 575.3,896.2 572.9,906.0 570.7,915.8 568.7,925.5 566.7,935.2 564.7,945.0 562.6,954.8 560.6,964.5 558.6,974.2 556.6,984.0 554.7,993.8 552.8,1003.5 550.8,1013.2 549.0,1023.0 547.1,1032.8 545.3,1042.5 543.5,1052.2 541.8,1062.0 540.2,1071.8 538.5,1081.5 536.9,1091.2 535.3,1101.0 533.7,1110.8 532.1,1120.5 530.5,1130.2 528.7,1140.0 535.2,1140.0 536.9,1130.2 538.5,1120.5 540.0,1110.8 541.5,1101.0 543.1,1091.2 544.6,1081.5 546.1,1071.8 547.7,1062.0 549.3,1052.2 551.0,1042.5 552.7,1032.8 554.5,1023.0 556.3,1013.2 558.1,1003.5 560.0,993.8 561.8,984.0 563.7,974.2 565.6,964.5 567.5,954.8 569.4,945.0 571.3,935.2 573.2,925.5 575.2,915.8 577.3,906.0 579.5,896.2 582.2,886.5 585.6,876.8 590.2,867.0 594.7,857.2 599.0,847.5 603.3,837.8 607.9,828.0 613.1,818.2 619.7,808.5 628.0,798.8 637.2,789.0" fill="#b3a598"/>
<polygon points="637.2,789.0 628.0,798.8 619.7,808.5 613.1,818.2 607.9,828.0 603.3,837.8 599.0,847.5 594.7,857.2 590.2,867.0 585.6,876.8 582.2,886.5 579.5,896.2 577.3,906.0 575.2,915.8 573.2,925.5 571.3,935.2 569.4,945.0 567.5,954.8 565.6,964.5 563.7,974.2 561.8,984.0 560.0,993.8 558.1,1003.5 556.3,1013.2 554.5,1023.0 552.7,1032.8 551.0,1042.5 549.3,1052.2 547.7,1062.0 546.1,1071.8 544.6,1081.5 543.1,1091.2 541.5,1101.0 540.0,1110.8 538.5,1120.5 536.9,1130.2 535.2,1140.0 543.1,1140.0 544.7,1130.2 546.2,1120.5 547.6,1110.8 549.0,1101.0 550.5,1091.2 551.9,1081.5 553.3,1071.8 554.8,1062.0 556.3,1052.2 557.9,1042.5 559.5,1032.8 561.2,1023.0 562.8,1013.2 564.5,1003.5 566.3,993.8 568.0,984.0 569.8,974.2 571.6,964.5 573.3,954.8 575.1,945.0 576.9,935.2 578.7,925.5 580.6,915.8 582.5,906.0 584.6,896.2 587.1,886.5 590.3,876.8 594.6,867.0 598.8,857.2 602.8,847.5 606.9,837.8 611.2,828.0 616.1,818.2 622.2,808.5 630.1,798.8 638.6,789.0" fill="#a09285"/>
<polygon points="638.6,789.0 630.1,798.8 622.2,808.5 616.1,818.2 611.2,828.0 606.9,837.8 602.8,847.5 598.8,857.2 594.6,867.0 590.3,876.8 587.1,886.5 584.6,896.2 582.5,906.0 580.6,915.8 578.7,925.5 576.9,935.2 575.1,945.0 573.3,954.8 571.6,964.5 569.8,974.2 568.0,984.0 566.3,993.8 564.5,1003.5 562.8,1013.2 561.2,1023.0 559.5,1032.8 557.9,1042.5 556.3,1052.2 554.8,1062.0 553.3,1071.8 551.9,1081.5 550.5,1091.2 549.0,1101.0 547.6,1110.8 546.2,1120.5 544.7,1130.2 543.1,1140.0 547.1,1140.0 548.6,1130.2 550.0,1120.5 551.4,1110.8 552.8,1101.0 554.1,1091.2 555.5,1081.5 556.9,1071.8 558.4,1062.0 559.8,1052.2 561.3,1042.5 562.9,1032.8 564.5,1023.0 566.1,1013.2 567.8,1003.5 569.4,993.8 571.1,984.0 572.8,974.2 574.5,964.5 576.3,954.8 578.0,945.0 579.7,935.2 581.5,925.5 583.2,915.8 585.1,906.0 587.1,896.2 589.5,886.5 592.6,876.8 596.8,867.0 600.9,857.2 604.8,847.5 608.7,837.8 612.9,828.0 617.5,818.2 623.5,808.5 631.1,798.8 639.4,789.0" fill="#74665b"/>
<polygon points="639.4,789.0 631.1,798.8 623.5,808.5 617.5,818.2 612.9,828.0 608.7,837.8 604.8,847.5 600.9,857.2 596.8,867.0 592.6,876.8 589.5,886.5 587.1,896.2 585.1,906.0 583.2,915.8 581.5,925.5 579.7,935.2 578.0,945.0 576.3,954.8 574.5,964.5 572.8,974.2 571.1,984.0 569.4,993.8 567.8,1003.5 566.1,1013.2 564.5,1023.0 562.9,1032.8 561.3,1042.5 559.8,1052.2 558.4,1062.0 556.9,1071.8 555.5,1081.5 554.1,1091.2 552.8,1101.0 551.4,1110.8 550.0,1120.5 548.6,1130.2 547.1,1140.0 556.3,1140.0 557.7,1130.2 559.0,1120.5 560.2,1110.8 561.5,1101.0 562.8,1091.2 564.0,1081.5 565.3,1071.8 566.6,1062.0 568.0,1052.2 569.4,1042.5 570.8,1032.8 572.3,1023.0 573.8,1013.2 575.3,1003.5 576.8,993.8 578.4,984.0 579.9,974.2 581.5,964.5 583.1,954.8 584.7,945.0 586.3,935.2 587.8,925.5 589.5,915.8 591.2,906.0 593.1,896.2 595.3,886.5 598.1,876.8 601.9,867.0 605.7,857.2 609.3,847.5 612.9,837.8 616.7,828.0 621.0,818.2 626.5,808.5 633.4,798.8 641.0,789.0" fill="#9d8f82"/>
<polygon points="641.0,789.0 633.4,798.8 626.5,808.5 621.0,818.2 616.7,828.0 612.9,837.8 609.3,847.5 605.7,857.2 601.9,867.0 598.1,876.8 595.3,886.5 593.1,896.2 591.2,906.0 589.5,915.8 587.8,925.5 586.3,935.2 584.7,945.0 583.1,954.8 581.5,964.5 579.9,974.2 578.4,984.0 576.8,993.8 575.3,1003.5 573.8,1013.2 572.3,1023.0 570.8,1032.8 569.4,1042.5 568.0,1052.2 566.6,1062.0 565.3,1071.8 564.0,1081.5 562.8,1091.2 561.5,1101.0 560.2,1110.8 559.0,1120.5 557.7,1130.2 556.3,1140.0 560.2,1140.0 561.6,1130.2 562.8,1120.5 564.0,1110.8 565.2,1101.0 566.5,1091.2 567.7,1081.5 568.9,1071.8 570.2,1062.0 571.5,1052.2 572.8,1042.5 574.2,1032.8 575.6,1023.0 577.0,1013.2 578.5,1003.5 580.0,993.8 581.5,984.0 583.0,974.2 584.5,964.5 586.0,954.8 587.5,945.0 589.1,935.2 590.6,925.5 592.2,915.8 593.8,906.0 595.6,896.2 597.7,886.5 600.4,876.8 604.1,867.0 607.8,857.2 611.2,847.5 614.7,837.8 618.3,828.0 622.5,818.2 627.7,808.5 634.4,798.8 641.8,789.0" fill="#716358"/>
<polygon points="641.8,789.0 634.4,798.8 627.7,808.5 622.5,818.2 618.3,828.0 614.7,837.8 611.2,847.5 607.8,857.2 604.1,867.0 600.4,876.8 597.7,886.5 595.6,896.2 593.8,906.0 592.2,915.8 590.6,925.5 589.1,935.2 587.5,945.0 586.0,954.8 584.5,964.5 583.0,974.2 581.5,984.0 580.0,993.8 578.5,1003.5 577.0,1013.2 575.6,1023.0 574.2,1032.8 572.8,1042.5 571.5,1052.2 570.2,1062.0 568.9,1071.8 567.7,1081.5 566.5,1091.2 565.2,1101.0 564.0,1110.8 562.8,1120.5 561.6,1130.2 560.2,1140.0 569.4,1140.0 570.6,1130.2 571.8,1120.5 572.9,1110.8 574.0,1101.0 575.1,1091.2 576.2,1081.5 577.3,1071.8 578.5,1062.0 579.6,1052.2 580.8,1042.5 582.1,1032.8 583.4,1023.0 584.7,1013.2 586.0,1003.5 587.3,993.8 588.7,984.0 590.1,974.2 591.4,964.5 592.8,954.8 594.2,945.0 595.6,935.2 597.0,925.5 598.4,915.8 599.9,906.0 601.5,896.2 603.5,886.5 605.9,876.8 609.3,867.0 612.6,857.2 615.7,847.5 618.8,837.8 622.2,828.0 625.9,818.2 630.7,808.5 636.8,798.8 643.4,789.0" fill="#998b7e"/>
<polygon points="643.4,789.0 636.8,798.8 630.7,808.5 625.9,818.2 622.2,828.0 618.8,837.8 615.7,847.5 612.6,857.2 609.3,867.0 605.9,876.8 603.5,886.5 601.5,896.2 599.9,906.0 598.4,915.8 597.0,925.5 595.6,935.2 594.2,945.0 592.8,954.8 591.4,964.5 590.1,974.2 588.7,984.0 587.3,993.8 586.0,1003.5 584.7,1013.2 583.4,1023.0 582.1,1032.8 580.8,1042.5 579.6,1052.2 578.5,1062.0 577.3,1071.8 576.2,1081.5 575.1,1091.2 574.0,1101.0 572.9,1110.8 571.8,1120.5 570.6,1130.2 569.4,1140.0 573.3,1140.0 574.5,1130.2 575.6,1120.5 576.7,1110.8 577.7,1101.0 578.8,1091.2 579.8,1081.5 580.9,1071.8 582.0,1062.0 583.1,1052.2 584.3,1042.5 585.5,1032.8 586.7,1023.0 588.0,1013.2 589.2,1003.5 590.5,993.8 591.8,984.0 593.1,974.2 594.4,964.5 595.7,954.8 597.1,945.0 598.4,935.2 599.7,925.5 601.1,915.8 602.5,906.0 604.1,896.2 605.9,886.5 608.3,876.8 611.5,867.0 614.6,857.2 617.6,847.5 620.6,837.8 623.8,828.0 627.4,818.2 632.0,808.5 637.8,798.8 644.2,789.0" fill="#6e6055"/>
<polygon points="644.2,789.0 637.8,798.8 632.0,808.5 627.4,818.2 623.8,828.0 620.6,837.8 617.6,847.5 614.6,857.2 611.5,867.0 608.3,876.8 605.9,886.5 604.1,896.2 602.5,906.0 601.1,915.8 599.7,925.5 598.4,935.2 597.1,945.0 595.7,954.8 594.4,964.5 593.1,974.2 591.8,984.0 590.5,993.8 589.2,1003.5 588.0,1013.2 586.7,1023.0 585.5,1032.8 584.3,1042.5 583.1,1052.2 582.0,1062.0 580.9,1071.8 579.8,1081.5 578.8,1091.2 577.7,1101.0 576.7,1110.8 575.6,1120.5 574.5,1130.2 573.3,1140.0 582.5,1140.0 583.6,1130.2 584.5,1120.5 585.5,1110.8 586.4,1101.0 587.4,1091.2 588.3,1081.5 589.3,1071.8 590.3,1062.0 591.3,1052.2 592.3,1042.5 593.4,1032.8 594.5,1023.0 595.6,1013.2 596.7,1003.5 597.9,993.8 599.0,984.0 600.2,974.2 601.4,964.5 602.6,954.8 603.7,945.0 604.9,935.2 606.1,925.5 607.3,915.8 608.6,906.0 610.0,896.2 611.7,886.5 613.8,876.8 616.6,867.0 619.5,857.2 622.1,847.5 624.8,837.8 627.7,828.0 630.9,818.2 635.0,808.5 640.2,798.8 645.8,789.0" fill="#96887b"/>
<polygon points="645.8,789.0 640.2,798.8 635.0,808.5 630.9,818.2 627.7,828.0 624.8,837.8 622.1,847.5 619.5,857.2 616.6,867.0 613.8,876.8 611.7,886.5 610.0,896.2 608.6,906.0 607.3,915.8 606.1,925.5 604.9,935.2 603.7,945.0 602.6,954.8 601.4,964.5 600.2,974.2 599.0,984.0 597.9,993.8 596.7,1003.5 595.6,1013.2 594.5,1023.0 593.4,1032.8 592.3,1042.5 591.3,1052.2 590.3,1062.0 589.3,1071.8 588.3,1081.5 587.4,1091.2 586.4,1101.0 585.5,1110.8 584.5,1120.5 583.6,1130.2 582.5,1140.0 586.5,1140.0 587.5,1130.2 588.4,1120.5 589.3,1110.8 590.2,1101.0 591.1,1091.2 592.0,1081.5 592.9,1071.8 593.8,1062.0 594.8,1052.2 595.8,1042.5 596.8,1032.8 597.8,1023.0 598.9,1013.2 599.9,1003.5 601.0,993.8 602.1,984.0 603.2,974.2 604.3,964.5 605.5,954.8 606.6,945.0 607.7,935.2 608.9,925.5 610.0,915.8 611.2,906.0 612.6,896.2 614.1,886.5 616.1,876.8 618.8,867.0 621.5,857.2 624.0,847.5 626.6,837.8 629.3,828.0 632.4,818.2 636.2,808.5 641.2,798.8 646.6,789.0" fill="#6b5d52"/>
<polygon points="646.6,789.0 641.2,798.8 636.2,808.5 632.4,818.2 629.3,828.0 626.6,837.8 624.0,847.5 621.5,857.2 618.8,867.0 616.1,876.8 614.1,886.5 612.6,896.2 611.2,906.0 610.0,915.8 608.9,925.5 607.7,935.2 606.6,945.0 605.5,954.8 604.3,964.5 603.2,974.2 602.1,984.0 601.0,993.8 599.9,1003.5 598.9,1013.2 597.8,1023.0 596.8,1032.8 595.8,1042.5 594.8,1052.2 593.8,1062.0 592.9,1071.8 592.0,1081.5 591.1,1091.2 590.2,1101.0 589.3,1110.8 588.4,1120.5 587.5,1130.2 586.5,1140.0 595.7,1140.0 596.5,1130.2 597.3,1120.5 598.1,1110.8 598.9,1101.0 599.7,1091.2 600.5,1081.5 601.3,1071.8 602.1,1062.0 602.9,1052.2 603.8,1042.5 604.7,1032.8 605.6,1023.0 606.5,1013.2 607.4,1003.5 608.4,993.8 609.4,984.0 610.3,974.2 611.3,964.5 612.3,954.8 613.3,945.0 614.3,935.2 615.2,925.5 616.3,915.8 617.3,906.0 618.5,896.2 619.9,886.5 621.6,876.8 624.0,867.0 626.3,857.2 628.5,847.5 630.8,837.8 633.1,828.0 635.8,818.2 639.2,808.5 643.5,798.8 648.2,789.0" fill="#928477"/>
<polygon points="648.2,789.0 643.5,798.8 639.2,808.5 635.8,818.2 633.1,828.0 630.8,837.8 628.5,847.5 626.3,857.2 624.0,867.0 621.6,876.8 619.9,886.5 618.5,896.2 617.3,906.0 616.3,915.8 615.2,925.5 614.3,935.2 613.3,945.0 612.3,954.8 611.3,964.5 610.3,974.2 609.4,984.0 608.4,993.8 607.4,1003.5 606.5,1013.2 605.6,1023.0 604.7,1032.8 603.8,1042.5 602.9,1052.2 602.1,1062.0 601.3,1071.8 600.5,1081.5 599.7,1091.2 598.9,1101.0 598.1,1110.8 597.3,1120.5 596.5,1130.2 595.7,1140.0 599.6,1140.0 600.4,1130.2 601.2,1120.5 601.9,1110.8 602.6,1101.0 603.4,1091.2 604.1,1081.5 604.9,1071.8 605.6,1062.0 606.4,1052.2 607.2,1042.5 608.1,1032.8 608.9,1023.0 609.8,1013.2 610.7,1003.5 611.6,993.8 612.5,984.0 613.4,974.2 614.3,964.5 615.2,954.8 616.1,945.0 617.1,935.2 618.0,925.5 618.9,915.8 619.9,906.0 621.0,896.2 622.3,886.5 624.0,876.8 626.2,867.0 628.4,857.2 630.5,847.5 632.6,837.8 634.8,828.0 637.3,818.2 640.5,808.5 644.5,798.8 649.0,789.0" fill="#685a4f"/>
<polygon points="649.0,789.0 644.5,798.8 640.5,808.5 637.3,818.2 634.8,828.0 632.6,837.8 630.5,847.5 628.4,857.2 626.2,867.0 624.0,876.8 622.3,886.5 621.0,896.2 619.9,906.0 618.9,915.8 618.0,925.5 617.1,935.2 616.1,945.0 615.2,954.8 614.3,964.5 613.4,974.2 612.5,984.0 611.6,993.8 610.7,1003.5 609.8,1013.2 608.9,1023.0 608.1,1032.8 607.2,1042.5 606.4,1052.2 605.6,1062.0 604.9,1071.8 604.1,1081.5 603.4,1091.2 602.6,1101.0 601.9,1110.8 601.2,1120.5 600.4,1130.2 599.6,1140.0 607.5,1140.0 608.2,1130.2 608.8,1120.5 609.5,1110.8 610.1,1101.0 610.8,1091.2 611.4,1081.5 612.1,1071.8 612.7,1062.0 613.4,1052.2 614.1,1042.5 614.8,1032.8 615.6,1023.0 616.3,1013.2 617.1,1003.5 617.9,993.8 618.7,984.0 619.5,974.2 620.2,964.5 621.1,954.8 621.9,945.0 622.7,935.2 623.5,925.5 624.3,915.8 625.2,906.0 626.1,896.2 627.2,886.5 628.7,876.8 630.6,867.0 632.5,857.2 634.3,847.5 636.1,837.8 638.1,828.0 640.3,818.2 643.0,808.5 646.5,798.8 650.4,789.0" fill="#ac9e91"/>
<polygon points="650.4,789.0 646.5,798.8 643.0,808.5 640.3,818.2 638.1,828.0 636.1,837.8 634.3,847.5 632.5,857.2 630.6,867.0 628.7,876.8 627.2,886.5 626.1,896.2 625.2,906.0 624.3,915.8 623.5,925.5 622.7,935.2 621.9,945.0 621.1,954.8 620.2,964.5 619.5,974.2 618.7,984.0 617.9,993.8 617.1,1003.5 616.3,1013.2 615.6,1023.0 614.8,1032.8 614.1,1042.5 613.4,1052.2 612.7,1062.0 612.1,1071.8 611.4,1081.5 610.8,1091.2 610.1,1101.0 609.5,1110.8 608.8,1120.5 608.2,1130.2 607.5,1140.0 611.4,1140.0 612.1,1130.2 612.7,1120.5 613.3,1110.8 613.9,1101.0 614.5,1091.2 615.1,1081.5 615.7,1071.8 616.3,1062.0 616.9,1052.2 617.6,1042.5 618.2,1032.8 618.9,1023.0 619.6,1013.2 620.3,1003.5 621.0,993.8 621.8,984.0 622.5,974.2 623.2,964.5 624.0,954.8 624.7,945.0 625.5,935.2 626.2,925.5 627.0,915.8 627.8,906.0 628.7,896.2 629.7,886.5 631.0,876.8 632.8,867.0 634.6,857.2 636.2,847.5 637.9,837.8 639.7,828.0 641.7,818.2 644.3,808.5 647.6,798.8 651.1,789.0" fill="#7f7166"/>
<polygon points="651.1,789.0 647.6,798.8 644.3,808.5 641.7,818.2 639.7,828.0 637.9,837.8 636.2,847.5 634.6,857.2 632.8,867.0 631.0,876.8 629.7,886.5 628.7,896.2 627.8,906.0 627.0,915.8 626.2,925.5 625.5,935.2 624.7,945.0 624.0,954.8 623.2,964.5 622.5,974.2 621.8,984.0 621.0,993.8 620.3,1003.5 619.6,1013.2 618.9,1023.0 618.2,1032.8 617.6,1042.5 616.9,1052.2 616.3,1062.0 615.7,1071.8 615.1,1081.5 614.5,1091.2 613.9,1101.0 613.3,1110.8 612.7,1120.5 612.1,1130.2 611.4,1140.0 628.5,1140.0 628.9,1130.2 629.3,1120.5 629.7,1110.8 630.1,1101.0 630.5,1091.2 630.8,1081.5 631.2,1071.8 631.6,1062.0 632.0,1052.2 632.5,1042.5 632.9,1032.8 633.3,1023.0 633.8,1013.2 634.3,1003.5 634.7,993.8 635.2,984.0 635.7,974.2 636.1,964.5 636.6,954.8 637.1,945.0 637.6,935.2 638.1,925.5 638.6,915.8 639.1,906.0 639.7,896.2 640.3,886.5 641.2,876.8 642.4,867.0 643.5,857.2 644.6,847.5 645.7,837.8 646.8,828.0 648.2,818.2 649.8,808.5 651.9,798.8 654.2,789.0" fill="#e0cfc2"/>
<polygon points="654.2,789.0 651.9,798.8 649.8,808.5 648.2,818.2 646.8,828.0 645.7,837.8 644.6,847.5 643.5,857.2 642.4,867.0 641.2,876.8 640.3,886.5 639.7,896.2 639.1,906.0 638.6,915.8 638.1,925.5 637.6,935.2 637.1,945.0 636.6,954.8 636.1,964.5 635.7,974.2 635.2,984.0 634.7,993.8 634.3,1003.5 633.8,1013.2 633.3,1023.0 632.9,1032.8 632.5,1042.5 632.0,1052.2 631.6,1062.0 631.2,1071.8 630.8,1081.5 630.5,1091.2 630.1,1101.0 629.7,1110.8 629.3,1120.5 628.9,1130.2 628.5,1140.0 633.7,1140.0 634.1,1130.2 634.4,1120.5 634.7,1110.8 635.1,1101.0 635.4,1091.2 635.7,1081.5 636.0,1071.8 636.4,1062.0 636.7,1052.2 637.1,1042.5 637.4,1032.8 637.8,1023.0 638.2,1013.2 638.6,1003.5 638.9,993.8 639.3,984.0 639.7,974.2 640.1,964.5 640.5,954.8 640.9,945.0 641.3,935.2 641.7,925.5 642.1,915.8 642.6,906.0 643.1,896.2 643.6,886.5 644.3,876.8 645.3,867.0 646.3,857.2 647.2,847.5 648.1,837.8 649.0,828.0 650.1,818.2 651.5,808.5 653.3,798.8 655.2,789.0" fill="#b9a899"/>
<polygon points="655.2,789.0 653.3,798.8 651.5,808.5 650.1,818.2 649.0,828.0 648.1,837.8 647.2,847.5 646.3,857.2 645.3,867.0 644.3,876.8 643.6,886.5 643.1,896.2 642.6,906.0 642.1,915.8 641.7,925.5 641.3,935.2 640.9,945.0 640.5,954.8 640.1,964.5 639.7,974.2 639.3,984.0 638.9,993.8 638.6,1003.5 638.2,1013.2 637.8,1023.0 637.4,1032.8 637.1,1042.5 636.7,1052.2 636.4,1062.0 636.0,1071.8 635.7,1081.5 635.4,1091.2 635.1,1101.0 634.7,1110.8 634.4,1120.5 634.1,1130.2 633.7,1140.0 646.9,1140.0 647.0,1130.2 647.2,1120.5 647.4,1110.8 647.5,1101.0 647.7,1091.2 647.9,1081.5 648.0,1071.8 648.2,1062.0 648.4,1052.2 648.5,1042.5 648.7,1032.8 648.9,1023.0 649.1,1013.2 649.3,1003.5 649.5,993.8 649.7,984.0 649.9,974.2 650.1,964.5 650.3,954.8 650.5,945.0 650.7,935.2 650.9,925.5 651.1,915.8 651.3,906.0 651.5,896.2 651.8,886.5 652.2,876.8 652.7,867.0 653.1,857.2 653.6,847.5 654.0,837.8 654.5,828.0 655.1,818.2 655.8,808.5 656.6,798.8 657.6,789.0" fill="#e1d0c3"/>
<polygon points="657.6,789.0 656.6,798.8 655.8,808.5 655.1,818.2 654.5,828.0 654.0,837.8 653.6,847.5 653.1,857.2 652.7,867.0 652.2,876.8 651.8,886.5 651.5,896.2 651.3,906.0 651.1,915.8 650.9,925.5 650.7,935.2 650.5,945.0 650.3,954.8 650.1,964.5 649.9,974.2 649.7,984.0 649.5,993.8 649.3,1003.5 649.1,1013.2 648.9,1023.0 648.7,1032.8 648.5,1042.5 648.4,1052.2 648.2,1062.0 648.0,1071.8 647.9,1081.5 647.7,1091.2 647.5,1101.0 647.4,1110.8 647.2,1120.5 647.0,1130.2 646.9,1140.0 660.0,1140.0 660.0,1130.2 660.0,1120.5 660.0,1110.8 660.0,1101.0 660.0,1091.2 660.0,1081.5 660.0,1071.8 660.0,1062.0 660.0,1052.2 660.0,1042.5 660.0,1032.8 660.0,1023.0 660.0,1013.2 660.0,1003.5 660.0,993.8 660.0,984.0 660.0,974.2 660.0,964.5 660.0,954.8 660.0,945.0 660.0,935.2 660.0,925.5 660.0,915.8 660.0,906.0 660.0,896.2 660.0,886.5 660.0,876.8 660.0,867.0 660.0,857.2 660.0,847.5 660.0,837.8 660.0,828.0 660.0,818.2 660.0,808.5 660.0,798.8 660.0,789.0" fill="#d2c0b1"/>
<polygon points="609,1139 660,1139 660,1155 640,1152 622,1156 609,1152" fill="#d8c6b8"/>
<polygon points="528,1138 609,1138 609,1143 528,1142" fill="#9d8f82"/>
<polygon points="170.0,372.0 171.4,383.2 172.5,394.4 173.7,405.6 174.9,416.8 176.3,428.0 177.9,439.2 179.9,450.4 182.3,461.6 184.9,472.8 187.8,483.9 190.9,495.1 194.1,506.3 197.3,517.5 200.6,528.7 203.9,539.9 207.0,551.1 210.3,562.3 213.6,573.5 217.4,584.7 221.6,595.9 226.5,607.1 232.3,618.3 238.8,629.5 246.0,640.7 253.6,651.9 261.3,663.1 269.4,674.2 277.9,685.4 287.0,696.6 296.2,707.8 305.6,719.0 315.3,730.2 325.1,741.4 334.7,752.6 343.6,763.8 352.0,775.0 352.1,775.0 344.0,763.8 335.3,752.6 326.0,741.4 316.5,730.2 307.1,719.0 298.0,707.8 289.1,696.6 280.3,685.4 272.0,674.2 264.2,663.1 256.7,651.9 249.3,640.7 242.4,629.5 236.0,618.3 230.4,607.1 225.6,595.9 221.5,584.7 217.9,573.5 214.7,562.3 211.5,551.1 208.5,539.9 205.3,528.7 202.1,517.5 199.0,506.3 195.9,495.1 192.9,483.9 190.1,472.8 187.5,461.6 185.2,450.4 183.3,439.2 181.7,428.0 180.4,416.8 179.2,405.6 178.1,394.4 176.9,383.2 175.6,372.0" fill="#e6d4c7"/>
<polygon points="175.6,372.0 176.9,383.2 178.1,394.4 179.2,405.6 180.4,416.8 181.7,428.0 183.3,439.2 185.2,450.4 187.5,461.6 190.1,472.8 192.9,483.9 195.9,495.1 199.0,506.3 202.1,517.5 205.3,528.7 208.5,539.9 211.5,551.1 214.7,562.3 217.9,573.5 221.5,584.7 225.6,595.9 230.4,607.1 236.0,618.3 242.4,629.5 249.3,640.7 256.7,651.9 264.2,663.1 272.0,674.2 280.3,685.4 289.1,696.6 298.0,707.8 307.1,719.0 316.5,730.2 326.0,741.4 335.3,752.6 344.0,763.8 352.1,775.0 352.3,775.0 344.4,763.8 335.9,752.6 326.8,741.4 317.6,730.2 308.4,719.0 299.6,707.8 290.9,696.6 282.3,685.4 274.2,674.2 266.7,663.1 259.4,651.9 252.2,640.7 245.4,629.5 239.2,618.3 233.8,607.1 229.1,595.9 225.1,584.7 221.6,573.5 218.4,562.3 215.4,551.1 212.4,539.9 209.3,528.7 206.2,517.5 203.2,506.3 200.2,495.1 197.3,483.9 194.5,472.8 192.0,461.6 189.8,450.4 187.9,439.2 186.3,428.0 185.0,416.8 183.9,405.6 182.8,394.4 181.7,383.2 180.4,372.0" fill="#cdb9a8"/>
<polygon points="180.4,372.0 181.7,383.2 182.8,394.4 183.9,405.6 185.0,416.8 186.3,428.0 187.9,439.2 189.8,450.4 192.0,461.6 194.5,472.8 197.3,483.9 200.2,495.1 203.2,506.3 206.2,517.5 209.3,528.7 212.4,539.9 215.4,551.1 218.4,562.3 221.6,573.5 225.1,584.7 229.1,595.9 233.8,607.1 239.2,618.3 245.4,629.5 252.2,640.7 259.4,651.9 266.7,663.1 274.2,674.2 282.3,685.4 290.9,696.6 299.6,707.8 308.4,719.0 317.6,730.2 326.8,741.4 335.9,752.6 344.4,763.8 352.3,775.0 352.4,775.0 344.6,763.8 336.3,752.6 327.3,741.4 318.2,730.2 309.3,719.0 300.6,707.8 292.0,696.6 283.6,685.4 275.6,674.2 268.2,663.1 261.0,651.9 253.9,640.7 247.3,629.5 241.2,618.3 235.8,607.1 231.2,595.9 227.3,584.7 223.9,573.5 220.7,562.3 217.7,551.1 214.8,539.9 211.8,528.7 208.7,517.5 205.7,506.3 202.8,495.1 199.9,483.9 197.2,472.8 194.7,461.6 192.5,450.4 190.7,439.2 189.2,428.0 187.9,416.8 186.8,405.6 185.7,394.4 184.6,383.2 183.4,372.0" fill="#8f7863"/>
<polygon points="183.4,372.0 184.6,383.2 185.7,394.4 186.8,405.6 187.9,416.8 189.2,428.0 190.7,439.2 192.5,450.4 194.7,461.6 197.2,472.8 199.9,483.9 202.8,495.1 205.7,506.3 208.7,517.5 211.8,528.7 214.8,539.9 217.7,551.1 220.7,562.3 223.9,573.5 227.3,584.7 231.2,595.9 235.8,607.1 241.2,618.3 247.3,629.5 253.9,640.7 261.0,651.9 268.2,663.1 275.6,674.2 283.6,685.4 292.0,696.6 300.6,707.8 309.3,719.0 318.2,730.2 327.3,741.4 336.3,752.6 344.6,763.8 352.4,775.0 352.5,775.0 345.0,763.8 336.9,752.6 328.3,741.4 319.5,730.2 310.8,719.0 302.4,707.8 294.1,696.6 285.9,685.4 278.2,674.2 271.0,663.1 264.1,651.9 257.2,640.7 250.8,629.5 244.9,618.3 239.7,607.1 235.3,595.9 231.5,584.7 228.2,573.5 225.1,562.3 222.2,551.1 219.4,539.9 216.5,528.7 213.5,517.5 210.6,506.3 207.8,495.1 205.0,483.9 202.4,472.8 200.0,461.6 197.9,450.4 196.1,439.2 194.6,428.0 193.4,416.8 192.3,405.6 191.2,394.4 190.2,383.2 189.0,372.0" fill="#e2cfc1"/>
<polygon points="189.0,372.0 190.2,383.2 191.2,394.4 192.3,405.6 193.4,416.8 194.6,428.0 196.1,439.2 197.9,450.4 200.0,461.6 202.4,472.8 205.0,483.9 207.8,495.1 210.6,506.3 213.5,517.5 216.5,528.7 219.4,539.9 222.2,551.1 225.1,562.3 228.2,573.5 231.5,584.7 235.3,595.9 239.7,607.1 244.9,618.3 250.8,629.5 257.2,640.7 264.1,651.9 271.0,663.1 278.2,674.2 285.9,685.4 294.1,696.6 302.4,707.8 310.8,719.0 319.5,730.2 328.3,741.4 336.9,752.6 345.0,763.8 352.5,775.0 352.6,775.0 345.3,763.8 337.5,752.6 329.1,741.4 320.6,730.2 312.1,719.0 303.9,707.8 295.9,696.6 288.0,685.4 280.5,674.2 273.5,663.1 266.7,651.9 260.1,640.7 253.8,629.5 248.1,618.3 243.1,607.1 238.8,595.9 235.1,584.7 231.9,573.5 228.9,562.3 226.1,551.1 223.3,539.9 220.5,528.7 217.6,517.5 214.8,506.3 212.0,495.1 209.4,483.9 206.8,472.8 204.5,461.6 202.4,450.4 200.7,439.2 199.3,428.0 198.0,416.8 197.0,405.6 196.0,394.4 195.0,383.2 193.8,372.0" fill="#c8b3a2"/>
<polygon points="193.8,372.0 195.0,383.2 196.0,394.4 197.0,405.6 198.0,416.8 199.3,428.0 200.7,439.2 202.4,450.4 204.5,461.6 206.8,472.8 209.4,483.9 212.0,495.1 214.8,506.3 217.6,517.5 220.5,528.7 223.3,539.9 226.1,551.1 228.9,562.3 231.9,573.5 235.1,584.7 238.8,595.9 243.1,607.1 248.1,618.3 253.8,629.5 260.1,640.7 266.7,651.9 273.5,663.1 280.5,674.2 288.0,685.4 295.9,696.6 303.9,707.8 312.1,719.0 320.6,730.2 329.1,741.4 337.5,752.6 345.3,763.8 352.6,775.0 352.7,775.0 345.5,763.8 337.9,752.6 329.6,741.4 321.2,730.2 312.9,719.0 304.9,707.8 297.0,696.6 289.2,685.4 281.9,674.2 275.0,663.1 268.4,651.9 261.8,640.7 255.7,629.5 250.1,618.3 245.1,607.1 240.9,595.9 237.3,584.7 234.1,573.5 231.2,562.3 228.5,551.1 225.7,539.9 223.0,528.7 220.1,517.5 217.4,506.3 214.6,495.1 212.0,483.9 209.5,472.8 207.2,461.6 205.2,450.4 203.5,439.2 202.1,428.0 200.9,416.8 199.9,405.6 198.9,394.4 197.9,383.2 196.7,372.0" fill="#99836e"/>
<polygon points="196.7,372.0 197.9,383.2 198.9,394.4 199.9,405.6 200.9,416.8 202.1,428.0 203.5,439.2 205.2,450.4 207.2,461.6 209.5,472.8 212.0,483.9 214.6,495.1 217.4,506.3 220.1,517.5 223.0,528.7 225.7,539.9 228.5,551.1 231.2,562.3 234.1,573.5 237.3,584.7 240.9,595.9 245.1,607.1 250.1,618.3 255.7,629.5 261.8,640.7 268.4,651.9 275.0,663.1 281.9,674.2 289.2,685.4 297.0,696.6 304.9,707.8 312.9,719.0 321.2,730.2 329.6,741.4 337.9,752.6 345.5,763.8 352.7,775.0 352.9,775.0 345.9,763.8 338.5,752.6 330.6,741.4 322.5,730.2 314.5,719.0 306.7,707.8 299.1,696.6 291.6,685.4 284.5,674.2 277.9,663.1 271.5,651.9 265.2,640.7 259.2,629.5 253.8,618.3 249.1,607.1 245.0,595.9 241.5,584.7 238.4,573.5 235.6,562.3 233.0,551.1 230.3,539.9 227.7,528.7 224.9,517.5 222.2,506.3 219.6,495.1 217.1,483.9 214.7,472.8 212.5,461.6 210.5,450.4 208.9,439.2 207.5,428.0 206.4,416.8 205.4,405.6 204.4,394.4 203.4,383.2 202.3,372.0" fill="#e8d7cb"/>
<polygon points="202.3,372.0 203.4,383.2 204.4,394.4 205.4,405.6 206.4,416.8 207.5,428.0 208.9,439.2 210.5,450.4 212.5,461.6 214.7,472.8 217.1,483.9 219.6,495.1 222.2,506.3 224.9,517.5 227.7,528.7 230.3,539.9 233.0,551.1 235.6,562.3 238.4,573.5 241.5,584.7 245.0,595.9 249.1,607.1 253.8,618.3 259.2,629.5 265.2,640.7 271.5,651.9 277.9,663.1 284.5,674.2 291.6,685.4 299.1,696.6 306.7,707.8 314.5,719.0 322.5,730.2 330.6,741.4 338.5,752.6 345.9,763.8 352.9,775.0 353.0,775.0 346.3,763.8 339.1,752.6 331.4,741.4 323.5,730.2 315.8,719.0 308.3,707.8 300.9,696.6 293.6,685.4 286.8,674.2 280.3,663.1 274.1,651.9 268.0,640.7 262.3,629.5 257.1,618.3 252.4,607.1 248.5,595.9 245.1,584.7 242.1,573.5 239.4,562.3 236.8,551.1 234.3,539.9 231.7,528.7 229.0,517.5 226.4,506.3 223.9,495.1 221.4,483.9 219.1,472.8 217.0,461.6 215.1,450.4 213.5,439.2 212.2,428.0 211.1,416.8 210.1,405.6 209.2,394.4 208.2,383.2 207.1,372.0" fill="#d0bcab"/>
<polygon points="207.1,372.0 208.2,383.2 209.2,394.4 210.1,405.6 211.1,416.8 212.2,428.0 213.5,439.2 215.1,450.4 217.0,461.6 219.1,472.8 221.4,483.9 223.9,495.1 226.4,506.3 229.0,517.5 231.7,528.7 234.3,539.9 236.8,551.1 239.4,562.3 242.1,573.5 245.1,584.7 248.5,595.9 252.4,607.1 257.1,618.3 262.3,629.5 268.0,640.7 274.1,651.9 280.3,663.1 286.8,674.2 293.6,685.4 300.9,696.6 308.3,707.8 315.8,719.0 323.5,730.2 331.4,741.4 339.1,752.6 346.3,763.8 353.0,775.0 353.1,775.0 346.5,763.8 339.5,752.6 331.9,741.4 324.2,730.2 316.6,719.0 309.2,707.8 302.0,696.6 294.9,685.4 288.1,674.2 281.8,663.1 275.8,651.9 269.8,640.7 264.1,629.5 259.0,618.3 254.5,607.1 250.6,595.9 247.3,584.7 244.4,573.5 241.7,562.3 239.2,551.1 236.7,539.9 234.1,528.7 231.5,517.5 229.0,506.3 226.5,495.1 224.1,483.9 221.8,472.8 219.7,461.6 217.8,450.4 216.3,439.2 215.0,428.0 213.9,416.8 213.0,405.6 212.1,394.4 211.1,383.2 210.1,372.0" fill="#87705b"/>
<polygon points="210.1,372.0 211.1,383.2 212.1,394.4 213.0,405.6 213.9,416.8 215.0,428.0 216.3,439.2 217.8,450.4 219.7,461.6 221.8,472.8 224.1,483.9 226.5,495.1 229.0,506.3 231.5,517.5 234.1,528.7 236.7,539.9 239.2,551.1 241.7,562.3 244.4,573.5 247.3,584.7 250.6,595.9 254.5,607.1 259.0,618.3 264.1,629.5 269.8,640.7 275.8,651.9 281.8,663.1 288.1,674.2 294.9,685.4 302.0,696.6 309.2,707.8 316.6,719.0 324.2,730.2 331.9,741.4 339.5,752.6 346.5,763.8 353.1,775.0 353.2,775.0 346.9,763.8 340.1,752.6 332.9,741.4 325.5,730.2 318.1,719.0 311.1,707.8 304.1,696.6 297.2,685.4 290.8,674.2 284.7,663.1 278.9,651.9 273.1,640.7 267.7,629.5 262.8,618.3 258.4,607.1 254.7,595.9 251.5,584.7 248.7,573.5 246.1,562.3 243.7,551.1 241.3,539.9 238.8,528.7 236.3,517.5 233.9,506.3 231.5,495.1 229.2,483.9 227.0,472.8 225.0,461.6 223.2,450.4 221.7,439.2 220.4,428.0 219.4,416.8 218.5,405.6 217.6,394.4 216.7,383.2 215.7,372.0" fill="#dfcbbd"/>
<polygon points="215.7,372.0 216.7,383.2 217.6,394.4 218.5,405.6 219.4,416.8 220.4,428.0 221.7,439.2 223.2,450.4 225.0,461.6 227.0,472.8 229.2,483.9 231.5,495.1 233.9,506.3 236.3,517.5 238.8,528.7 241.3,539.9 243.7,551.1 246.1,562.3 248.7,573.5 251.5,584.7 254.7,595.9 258.4,607.1 262.8,618.3 267.7,629.5 273.1,640.7 278.9,651.9 284.7,663.1 290.8,674.2 297.2,685.4 304.1,696.6 311.1,707.8 318.1,719.0 325.5,730.2 332.9,741.4 340.1,752.6 346.9,763.8 353.2,775.0 353.3,775.0 347.2,763.8 340.7,752.6 333.7,741.4 326.5,730.2 319.5,719.0 312.6,707.8 305.9,696.6 299.3,685.4 293.0,674.2 287.2,663.1 281.5,651.9 276.0,640.7 270.7,629.5 266.0,618.3 261.7,607.1 258.1,595.9 255.1,584.7 252.3,573.5 249.9,562.3 247.5,551.1 245.2,539.9 242.8,528.7 240.4,517.5 238.1,506.3 235.8,495.1 233.5,483.9 231.4,472.8 229.4,461.6 227.7,450.4 226.3,439.2 225.1,428.0 224.1,416.8 223.2,405.6 222.3,394.4 221.5,383.2 220.5,372.0" fill="#cdb9a8"/>
<polygon points="220.5,372.0 221.5,383.2 222.3,394.4 223.2,405.6 224.1,416.8 225.1,428.0 226.3,439.2 227.7,450.4 229.4,461.6 231.4,472.8 233.5,483.9 235.8,495.1 238.1,506.3 240.4,517.5 242.8,528.7 245.2,539.9 247.5,551.1 249.9,562.3 252.3,573.5 255.1,584.7 258.1,595.9 261.7,607.1 266.0,618.3 270.7,629.5 276.0,640.7 281.5,651.9 287.2,663.1 293.0,674.2 299.3,685.4 305.9,696.6 312.6,707.8 319.5,719.0 326.5,730.2 333.7,741.4 340.7,752.6 347.2,763.8 353.3,775.0 353.4,775.0 347.4,763.8 341.1,752.6 334.2,741.4 327.2,730.2 320.3,719.0 313.6,707.8 307.0,696.6 300.5,685.4 294.4,674.2 288.7,663.1 283.1,651.9 277.7,640.7 272.6,629.5 267.9,618.3 263.8,607.1 260.3,595.9 257.3,584.7 254.6,573.5 252.2,562.3 249.9,551.1 247.6,539.9 245.3,528.7 243.0,517.5 240.6,506.3 238.4,495.1 236.2,483.9 234.1,472.8 232.2,461.6 230.5,450.4 229.1,439.2 227.9,428.0 226.9,416.8 226.0,405.6 225.2,394.4 224.4,383.2 223.4,372.0" fill="#8f7863"/>
<polygon points="223.4,372.0 224.4,383.2 225.2,394.4 226.0,405.6 226.9,416.8 227.9,428.0 229.1,439.2 230.5,450.4 232.2,461.6 234.1,472.8 236.2,483.9 238.4,495.1 240.6,506.3 243.0,517.5 245.3,528.7 247.6,539.9 249.9,551.1 252.2,562.3 254.6,573.5 257.3,584.7 260.3,595.9 263.8,607.1 267.9,618.3 272.6,629.5 277.7,640.7 283.1,651.9 288.7,663.1 294.4,674.2 300.5,685.4 307.0,696.6 313.6,707.8 320.3,719.0 327.2,730.2 334.2,741.4 341.1,752.6 347.4,763.8 353.4,775.0 353.6,775.0 347.8,763.8 341.7,752.6 335.1,741.4 328.4,730.2 321.8,719.0 315.4,707.8 309.1,696.6 302.9,685.4 297.0,674.2 291.5,663.1 286.2,651.9 281.0,640.7 276.1,629.5 271.7,618.3 267.7,607.1 264.3,595.9 261.4,584.7 258.9,573.5 256.6,562.3 254.4,551.1 252.2,539.9 250.0,528.7 247.7,517.5 245.5,506.3 243.3,495.1 241.2,483.9 239.3,472.8 237.4,461.6 235.8,450.4 234.5,439.2 233.3,428.0 232.4,416.8 231.5,405.6 230.8,394.4 230.0,383.2 229.0,372.0" fill="#e6d4c7"/>
<polygon points="229.0,372.0 230.0,383.2 230.8,394.4 231.5,405.6 232.4,416.8 233.3,428.0 234.5,439.2 235.8,450.4 237.4,461.6 239.3,472.8 241.2,483.9 243.3,495.1 245.5,506.3 247.7,517.5 250.0,528.7 252.2,539.9 254.4,551.1 256.6,562.3 258.9,573.5 261.4,584.7 264.3,595.9 267.7,607.1 271.7,618.3 276.1,629.5 281.0,640.7 286.2,651.9 291.5,663.1 297.0,674.2 302.9,685.4 309.1,696.6 315.4,707.8 321.8,719.0 328.4,730.2 335.1,741.4 341.7,752.6 347.8,763.8 353.6,775.0 353.7,775.0 348.2,763.8 342.3,752.6 336.0,741.4 329.5,730.2 323.1,719.0 317.0,707.8 310.9,696.6 304.9,685.4 299.3,674.2 294.0,663.1 288.9,651.9 283.9,640.7 279.2,629.5 274.9,618.3 271.1,607.1 267.8,595.9 265.0,584.7 262.6,573.5 260.4,562.3 258.2,551.1 256.1,539.9 254.0,528.7 251.8,517.5 249.7,506.3 247.6,495.1 245.6,483.9 243.7,472.8 241.9,461.6 240.4,450.4 239.1,439.2 238.0,428.0 237.1,416.8 236.3,405.6 235.5,394.4 234.7,383.2 233.8,372.0" fill="#c8b3a2"/>
<polygon points="233.8,372.0 234.7,383.2 235.5,394.4 236.3,405.6 237.1,416.8 238.0,428.0 239.1,439.2 240.4,450.4 241.9,461.6 243.7,472.8 245.6,483.9 247.6,495.1 249.7,506.3 251.8,517.5 254.0,528.7 256.1,539.9 258.2,551.1 260.4,562.3 262.6,573.5 265.0,584.7 267.8,595.9 271.1,607.1 274.9,618.3 279.2,629.5 283.9,640.7 288.9,651.9 294.0,663.1 299.3,674.2 304.9,685.4 310.9,696.6 317.0,707.8 323.1,719.0 329.5,730.2 336.0,741.4 342.3,752.6 348.2,763.8 353.7,775.0 353.8,775.0 348.4,763.8 342.6,752.6 336.5,741.4 330.2,730.2 323.9,719.0 317.9,707.8 312.0,696.6 306.2,685.4 300.7,674.2 295.5,663.1 290.5,651.9 285.6,640.7 281.0,629.5 276.8,618.3 273.1,607.1 269.9,595.9 267.2,584.7 264.8,573.5 262.7,562.3 260.6,551.1 258.6,539.9 256.5,528.7 254.4,517.5 252.3,506.3 250.2,495.1 248.3,483.9 246.4,472.8 244.7,461.6 243.1,450.4 241.9,439.2 240.8,428.0 239.9,416.8 239.1,405.6 238.4,394.4 237.7,383.2 236.8,372.0" fill="#99836e"/>
<polygon points="236.8,372.0 237.7,383.2 238.4,394.4 239.1,405.6 239.9,416.8 240.8,428.0 241.9,439.2 243.1,450.4 244.7,461.6 246.4,472.8 248.3,483.9 250.2,495.1 252.3,506.3 254.4,517.5 256.5,528.7 258.6,539.9 260.6,551.1 262.7,562.3 264.8,573.5 267.2,584.7 269.9,595.9 273.1,607.1 276.8,618.3 281.0,629.5 285.6,640.7 290.5,651.9 295.5,663.1 300.7,674.2 306.2,685.4 312.0,696.6 317.9,707.8 323.9,719.0 330.2,730.2 336.5,741.4 342.6,752.6 348.4,763.8 353.8,775.0 353.9,775.0 348.8,763.8 343.3,752.6 337.4,741.4 331.4,730.2 325.5,719.0 319.7,707.8 314.1,696.6 308.5,685.4 303.3,674.2 298.4,663.1 293.6,651.9 289.0,640.7 284.6,629.5 280.6,618.3 277.0,607.1 274.0,595.9 271.4,584.7 269.1,573.5 267.1,562.3 265.1,551.1 263.1,539.9 261.2,528.7 259.1,517.5 257.2,506.3 255.2,495.1 253.3,483.9 251.6,472.8 249.9,461.6 248.5,450.4 247.2,439.2 246.2,428.0 245.4,416.8 244.6,405.6 243.9,394.4 243.2,383.2 242.4,372.0" fill="#e2cfc1"/>
<polygon points="242.4,372.0 243.2,383.2 243.9,394.4 244.6,405.6 245.4,416.8 246.2,428.0 247.2,439.2 248.5,450.4 249.9,461.6 251.6,472.8 253.3,483.9 255.2,495.1 257.2,506.3 259.1,517.5 261.2,528.7 263.1,539.9 265.1,551.1 267.1,562.3 269.1,573.5 271.4,584.7 274.0,595.9 277.0,607.1 280.6,618.3 284.6,629.5 289.0,640.7 293.6,651.9 298.4,663.1 303.3,674.2 308.5,685.4 314.1,696.6 319.7,707.8 325.5,719.0 331.4,730.2 337.4,741.4 343.3,752.6 348.8,763.8 353.9,775.0 354.1,775.0 349.1,763.8 343.9,752.6 338.2,741.4 332.5,730.2 326.8,719.0 321.3,707.8 315.9,696.6 310.6,685.4 305.5,674.2 300.8,663.1 296.3,651.9 291.8,640.7 287.6,629.5 283.8,618.3 280.4,607.1 277.5,595.9 275.0,584.7 272.8,573.5 270.8,562.3 268.9,551.1 267.1,539.9 265.2,528.7 263.3,517.5 261.3,506.3 259.5,495.1 257.7,483.9 256.0,472.8 254.4,461.6 253.0,450.4 251.8,439.2 250.9,428.0 250.1,416.8 249.4,405.6 248.7,394.4 248.0,383.2 247.2,372.0" fill="#d0bcab"/>
<polygon points="247.2,372.0 248.0,383.2 248.7,394.4 249.4,405.6 250.1,416.8 250.9,428.0 251.8,439.2 253.0,450.4 254.4,461.6 256.0,472.8 257.7,483.9 259.5,495.1 261.3,506.3 263.3,517.5 265.2,528.7 267.1,539.9 268.9,551.1 270.8,562.3 272.8,573.5 275.0,584.7 277.5,595.9 280.4,607.1 283.8,618.3 287.6,629.5 291.8,640.7 296.3,651.9 300.8,663.1 305.5,674.2 310.6,685.4 315.9,696.6 321.3,707.8 326.8,719.0 332.5,730.2 338.2,741.4 343.9,752.6 349.1,763.8 354.1,775.0 354.1,775.0 349.4,763.8 344.2,752.6 338.7,741.4 333.1,730.2 327.6,719.0 322.3,707.8 317.0,696.6 311.8,685.4 306.9,674.2 302.3,663.1 297.9,651.9 293.6,640.7 289.5,629.5 285.7,618.3 282.4,607.1 279.6,595.9 277.2,584.7 275.1,573.5 273.1,562.3 271.3,551.1 269.5,539.9 267.6,528.7 265.8,517.5 263.9,506.3 262.1,495.1 260.3,483.9 258.7,472.8 257.2,461.6 255.8,450.4 254.7,439.2 253.7,428.0 252.9,416.8 252.2,405.6 251.6,394.4 250.9,383.2 250.1,372.0" fill="#87705b"/>
<polygon points="250.1,372.0 250.9,383.2 251.6,394.4 252.2,405.6 252.9,416.8 253.7,428.0 254.7,439.2 255.8,450.4 257.2,461.6 258.7,472.8 260.3,483.9 262.1,495.1 263.9,506.3 265.8,517.5 267.6,528.7 269.5,539.9 271.3,551.1 273.1,562.3 275.1,573.5 277.2,584.7 279.6,595.9 282.4,607.1 285.7,618.3 289.5,629.5 293.6,640.7 297.9,651.9 302.3,663.1 306.9,674.2 311.8,685.4 317.0,696.6 322.3,707.8 327.6,719.0 333.1,730.2 338.7,741.4 344.2,752.6 349.4,763.8 354.1,775.0 354.3,775.0 349.8,763.8 344.9,752.6 339.7,741.4 334.4,730.2 329.2,719.0 324.1,707.8 319.1,696.6 314.2,685.4 309.5,674.2 305.2,663.1 301.0,651.9 296.9,640.7 293.0,629.5 289.5,618.3 286.3,607.1 283.7,595.9 281.4,584.7 279.4,573.5 277.5,562.3 275.8,551.1 274.1,539.9 272.3,528.7 270.6,517.5 268.8,506.3 267.1,495.1 265.4,483.9 263.8,472.8 262.4,461.6 261.1,450.4 260.0,439.2 259.2,428.0 258.4,416.8 257.7,405.6 257.1,394.4 256.5,383.2 255.8,372.0" fill="#e8d7cb"/>
<polygon points="255.8,372.0 256.5,383.2 257.1,394.4 257.7,405.6 258.4,416.8 259.2,428.0 260.0,439.2 261.1,450.4 262.4,461.6 263.8,472.8 265.4,483.9 267.1,495.1 268.8,506.3 270.6,517.5 272.3,528.7 274.1,539.9 275.8,551.1 277.5,562.3 279.4,573.5 281.4,584.7 283.7,595.9 286.3,607.1 289.5,618.3 293.0,629.5 296.9,640.7 301.0,651.9 305.2,663.1 309.5,674.2 314.2,685.4 319.1,696.6 324.1,707.8 329.2,719.0 334.4,730.2 339.7,741.4 344.9,752.6 349.8,763.8 354.3,775.0 354.4,775.0 350.1,763.8 345.5,752.6 340.5,741.4 335.5,730.2 330.5,719.0 325.7,707.8 320.9,696.6 316.2,685.4 311.8,674.2 307.7,663.1 303.7,651.9 299.7,640.7 296.1,629.5 292.7,618.3 289.7,607.1 287.2,595.9 285.0,584.7 283.1,573.5 281.3,562.3 279.7,551.1 278.0,539.9 276.4,528.7 274.7,517.5 273.0,506.3 271.3,495.1 269.8,483.9 268.3,472.8 266.9,461.6 265.7,450.4 264.6,439.2 263.8,428.0 263.1,416.8 262.5,405.6 261.9,394.4 261.3,383.2 260.6,372.0" fill="#cdb9a8"/>
<polygon points="260.6,372.0 261.3,383.2 261.9,394.4 262.5,405.6 263.1,416.8 263.8,428.0 264.6,439.2 265.7,450.4 266.9,461.6 268.3,472.8 269.8,483.9 271.3,495.1 273.0,506.3 274.7,517.5 276.4,528.7 278.0,539.9 279.7,551.1 281.3,562.3 283.1,573.5 285.0,584.7 287.2,595.9 289.7,607.1 292.7,618.3 296.1,629.5 299.7,640.7 303.7,651.9 307.7,663.1 311.8,674.2 316.2,685.4 320.9,696.6 325.7,707.8 330.5,719.0 335.5,730.2 340.5,741.4 345.5,752.6 350.1,763.8 354.4,775.0 354.5,775.0 350.3,763.8 345.8,752.6 341.0,741.4 336.1,730.2 331.3,719.0 326.6,707.8 322.0,696.6 317.5,685.4 313.2,674.2 309.2,663.1 305.3,651.9 301.5,640.7 297.9,629.5 294.6,618.3 291.8,607.1 289.3,595.9 287.2,584.7 285.3,573.5 283.6,562.3 282.0,551.1 280.4,539.9 278.8,528.7 277.2,517.5 275.5,506.3 274.0,495.1 272.4,483.9 271.0,472.8 269.6,461.6 268.4,450.4 267.5,439.2 266.6,428.0 265.9,416.8 265.3,405.6 264.8,394.4 264.2,383.2 263.5,372.0" fill="#8f7863"/>
<polygon points="263.5,372.0 264.2,383.2 264.8,394.4 265.3,405.6 265.9,416.8 266.6,428.0 267.5,439.2 268.4,450.4 269.6,461.6 271.0,472.8 272.4,483.9 274.0,495.1 275.5,506.3 277.2,517.5 278.8,528.7 280.4,539.9 282.0,551.1 283.6,562.3 285.3,573.5 287.2,584.7 289.3,595.9 291.8,607.1 294.6,618.3 297.9,629.5 301.5,640.7 305.3,651.9 309.2,663.1 313.2,674.2 317.5,685.4 322.0,696.6 326.6,707.8 331.3,719.0 336.1,730.2 341.0,741.4 345.8,752.6 350.3,763.8 354.5,775.0 354.6,775.0 350.7,763.8 346.5,752.6 342.0,741.4 337.4,730.2 332.8,719.0 328.4,707.8 324.1,696.6 319.8,685.4 315.8,674.2 312.0,663.1 308.4,651.9 304.8,640.7 301.5,629.5 298.4,618.3 295.7,607.1 293.3,595.9 291.4,584.7 289.6,573.5 288.0,562.3 286.5,551.1 285.0,539.9 283.5,528.7 282.0,517.5 280.4,506.3 278.9,495.1 277.5,483.9 276.1,472.8 274.9,461.6 273.8,450.4 272.8,439.2 272.1,428.0 271.4,416.8 270.8,405.6 270.3,394.4 269.7,383.2 269.1,372.0" fill="#dfcbbd"/>
<polygon points="269.1,372.0 269.7,383.2 270.3,394.4 270.8,405.6 271.4,416.8 272.1,428.0 272.8,439.2 273.8,450.4 274.9,461.6 276.1,472.8 277.5,483.9 278.9,495.1 280.4,506.3 282.0,517.5 283.5,528.7 285.0,539.9 286.5,551.1 288.0,562.3 289.6,573.5 291.4,584.7 293.3,595.9 295.7,607.1 298.4,618.3 301.5,629.5 304.8,640.7 308.4,651.9 312.0,663.1 315.8,674.2 319.8,685.4 324.1,696.6 328.4,707.8 332.8,719.0 337.4,730.2 342.0,741.4 346.5,752.6 350.7,763.8 354.6,775.0 354.8,775.0 351.1,763.8 347.1,752.6 342.8,741.4 338.5,730.2 334.2,719.0 330.0,707.8 325.9,696.6 321.9,685.4 318.1,674.2 314.5,663.1 311.1,651.9 307.7,640.7 304.5,629.5 301.6,618.3 299.0,607.1 296.8,595.9 295.0,584.7 293.3,573.5 291.8,562.3 290.4,551.1 289.0,539.9 287.5,528.7 286.1,517.5 284.6,506.3 283.2,495.1 281.8,483.9 280.6,472.8 279.4,461.6 278.3,450.4 277.4,439.2 276.7,428.0 276.1,416.8 275.5,405.6 275.0,394.4 274.5,383.2 273.9,372.0" fill="#c8b3a2"/>
<polygon points="273.9,372.0 274.5,383.2 275.0,394.4 275.5,405.6 276.1,416.8 276.7,428.0 277.4,439.2 278.3,450.4 279.4,461.6 280.6,472.8 281.8,483.9 283.2,495.1 284.6,506.3 286.1,517.5 287.5,528.7 289.0,539.9 290.4,551.1 291.8,562.3 293.3,573.5 295.0,584.7 296.8,595.9 299.0,607.1 301.6,618.3 304.5,629.5 307.7,640.7 311.1,651.9 314.5,663.1 318.1,674.2 321.9,685.4 325.9,696.6 330.0,707.8 334.2,719.0 338.5,730.2 342.8,741.4 347.1,752.6 351.1,763.8 354.8,775.0 354.9,775.0 351.3,763.8 347.4,752.6 343.3,741.4 339.1,730.2 335.0,719.0 330.9,707.8 327.0,696.6 323.1,685.4 319.4,674.2 316.0,663.1 312.7,651.9 309.4,640.7 306.4,629.5 303.6,618.3 301.1,607.1 299.0,595.9 297.2,584.7 295.6,573.5 294.1,562.3 292.7,551.1 291.4,539.9 290.0,528.7 288.6,517.5 287.2,506.3 285.8,495.1 284.5,483.9 283.3,472.8 282.1,461.6 281.1,450.4 280.2,439.2 279.5,428.0 279.0,416.8 278.4,405.6 277.9,394.4 277.4,383.2 276.9,372.0" fill="#99836e"/>
<polygon points="276.9,372.0 277.4,383.2 277.9,394.4 278.4,405.6 279.0,416.8 279.5,428.0 280.2,439.2 281.1,450.4 282.1,461.6 283.3,472.8 284.5,483.9 285.8,495.1 287.2,506.3 288.6,517.5 290.0,528.7 291.4,539.9 292.7,551.1 294.1,562.3 295.6,573.5 297.2,584.7 299.0,595.9 301.1,607.1 303.6,618.3 306.4,629.5 309.4,640.7 312.7,651.9 316.0,663.1 319.4,674.2 323.1,685.4 327.0,696.6 330.9,707.8 335.0,719.0 339.1,730.2 343.3,741.4 347.4,752.6 351.3,763.8 354.9,775.0 355.0,775.0 351.7,763.8 348.1,752.6 344.3,741.4 340.4,730.2 336.5,719.0 332.8,707.8 329.1,696.6 325.5,685.4 322.1,674.2 318.9,663.1 315.8,651.9 312.8,640.7 309.9,629.5 307.3,618.3 305.0,607.1 303.0,595.9 301.3,584.7 299.9,573.5 298.5,562.3 297.2,551.1 296.0,539.9 294.7,528.7 293.4,517.5 292.1,506.3 290.8,495.1 289.6,483.9 288.4,472.8 287.4,461.6 286.4,450.4 285.6,439.2 285.0,428.0 284.4,416.8 283.9,405.6 283.5,394.4 283.0,383.2 282.5,372.0" fill="#e6d4c7"/>
<polygon points="282.5,372.0 283.0,383.2 283.5,394.4 283.9,405.6 284.4,416.8 285.0,428.0 285.6,439.2 286.4,450.4 287.4,461.6 288.4,472.8 289.6,483.9 290.8,495.1 292.1,506.3 293.4,517.5 294.7,528.7 296.0,539.9 297.2,551.1 298.5,562.3 299.9,573.5 301.3,584.7 303.0,595.9 305.0,607.1 307.3,618.3 309.9,629.5 312.8,640.7 315.8,651.9 318.9,663.1 322.1,674.2 325.5,685.4 329.1,696.6 332.8,707.8 336.5,719.0 340.4,730.2 344.3,741.4 348.1,752.6 351.7,763.8 355.0,775.0 355.1,775.0 352.0,763.8 348.7,752.6 345.1,741.4 341.4,730.2 337.8,719.0 334.3,707.8 330.9,696.6 327.5,685.4 324.3,674.2 321.3,663.1 318.4,651.9 315.6,640.7 312.9,629.5 310.5,618.3 308.3,607.1 306.5,595.9 304.9,584.7 303.5,573.5 302.3,562.3 301.1,551.1 299.9,539.9 298.7,528.7 297.5,517.5 296.3,506.3 295.1,495.1 293.9,483.9 292.8,472.8 291.8,461.6 291.0,450.4 290.2,439.2 289.6,428.0 289.1,416.8 288.6,405.6 288.2,394.4 287.8,383.2 287.3,372.0" fill="#d0bcab"/>
<polygon points="287.3,372.0 287.8,383.2 288.2,394.4 288.6,405.6 289.1,416.8 289.6,428.0 290.2,439.2 291.0,450.4 291.8,461.6 292.8,472.8 293.9,483.9 295.1,495.1 296.3,506.3 297.5,517.5 298.7,528.7 299.9,539.9 301.1,551.1 302.3,562.3 303.5,573.5 304.9,584.7 306.5,595.9 308.3,607.1 310.5,618.3 312.9,629.5 315.6,640.7 318.4,651.9 321.3,663.1 324.3,674.2 327.5,685.4 330.9,696.6 334.3,707.8 337.8,719.0 341.4,730.2 345.1,741.4 348.7,752.6 352.0,763.8 355.1,775.0 355.2,775.0 352.2,763.8 349.0,752.6 345.6,741.4 342.1,730.2 338.6,719.0 335.3,707.8 332.0,696.6 328.8,685.4 325.7,674.2 322.8,663.1 320.1,651.9 317.4,640.7 314.8,629.5 312.5,618.3 310.4,607.1 308.6,595.9 307.1,584.7 305.8,573.5 304.6,562.3 303.4,551.1 302.3,539.9 301.2,528.7 300.0,517.5 298.8,506.3 297.7,495.1 296.6,483.9 295.6,472.8 294.6,461.6 293.7,450.4 293.0,439.2 292.5,428.0 292.0,416.8 291.5,405.6 291.1,394.4 290.7,383.2 290.2,372.0" fill="#87705b"/>
<polygon points="290.2,372.0 290.7,383.2 291.1,394.4 291.5,405.6 292.0,416.8 292.5,428.0 293.0,439.2 293.7,450.4 294.6,461.6 295.6,472.8 296.6,483.9 297.7,495.1 298.8,506.3 300.0,517.5 301.2,528.7 302.3,539.9 303.4,551.1 304.6,562.3 305.8,573.5 307.1,584.7 308.6,595.9 310.4,607.1 312.5,618.3 314.8,629.5 317.4,640.7 320.1,651.9 322.8,663.1 325.7,674.2 328.8,685.4 332.0,696.6 335.3,707.8 338.6,719.0 342.1,730.2 345.6,741.4 349.0,752.6 352.2,763.8 355.2,775.0 355.4,775.0 352.6,763.8 349.7,752.6 346.5,741.4 343.3,730.2 340.2,719.0 337.1,707.8 334.1,696.6 331.1,685.4 328.3,674.2 325.7,663.1 323.2,651.9 320.7,640.7 318.3,629.5 316.2,618.3 314.3,607.1 312.7,595.9 311.3,584.7 310.1,573.5 309.0,562.3 307.9,551.1 306.9,539.9 305.8,528.7 304.8,517.5 303.7,506.3 302.7,495.1 301.7,483.9 300.7,472.8 299.8,461.6 299.1,450.4 298.4,439.2 297.9,428.0 297.4,416.8 297.0,405.6 296.7,394.4 296.3,383.2 295.8,372.0" fill="#e2cfc1"/>
<polygon points="295.8,372.0 296.3,383.2 296.7,394.4 297.0,405.6 297.4,416.8 297.9,428.0 298.4,439.2 299.1,450.4 299.8,461.6 300.7,472.8 301.7,483.9 302.7,495.1 303.7,506.3 304.8,517.5 305.8,528.7 306.9,539.9 307.9,551.1 309.0,562.3 310.1,573.5 311.3,584.7 312.7,595.9 314.3,607.1 316.2,618.3 318.3,629.5 320.7,640.7 323.2,651.9 325.7,663.1 328.3,674.2 331.1,685.4 334.1,696.6 337.1,707.8 340.2,719.0 343.3,730.2 346.5,741.4 349.7,752.6 352.6,763.8 355.4,775.0 355.5,775.0 353.0,763.8 350.3,752.6 347.4,741.4 344.4,730.2 341.5,719.0 338.7,707.8 335.9,696.6 333.2,685.4 330.6,674.2 328.2,663.1 325.8,651.9 323.5,640.7 321.4,629.5 319.4,618.3 317.7,607.1 316.2,595.9 314.9,584.7 313.8,573.5 312.8,562.3 311.8,551.1 310.8,539.9 309.9,528.7 308.9,517.5 307.9,506.3 306.9,495.1 306.0,483.9 305.1,472.8 304.3,461.6 303.6,450.4 303.0,439.2 302.5,428.0 302.1,416.8 301.7,405.6 301.4,394.4 301.0,383.2 300.6,372.0" fill="#cdb9a8"/>
<polygon points="300.6,372.0 301.0,383.2 301.4,394.4 301.7,405.6 302.1,416.8 302.5,428.0 303.0,439.2 303.6,450.4 304.3,461.6 305.1,472.8 306.0,483.9 306.9,495.1 307.9,506.3 308.9,517.5 309.9,528.7 310.8,539.9 311.8,551.1 312.8,562.3 313.8,573.5 314.9,584.7 316.2,595.9 317.7,607.1 319.4,618.3 321.4,629.5 323.5,640.7 325.8,651.9 328.2,663.1 330.6,674.2 333.2,685.4 335.9,696.6 338.7,707.8 341.5,719.0 344.4,730.2 347.4,741.4 350.3,752.6 353.0,763.8 355.5,775.0 355.6,775.0 353.2,763.8 350.6,752.6 347.9,741.4 345.1,730.2 342.3,719.0 339.6,707.8 337.0,696.6 334.4,685.4 332.0,674.2 329.7,663.1 327.5,651.9 325.3,640.7 323.2,629.5 321.4,618.3 319.7,607.1 318.3,595.9 317.1,584.7 316.0,573.5 315.1,562.3 314.2,551.1 313.2,539.9 312.3,528.7 311.4,517.5 310.5,506.3 309.5,495.1 308.7,483.9 307.8,472.8 307.1,461.6 306.4,450.4 305.8,439.2 305.4,428.0 305.0,416.8 304.6,405.6 304.3,394.4 304.0,383.2 303.6,372.0" fill="#8f7863"/>
<polygon points="303.6,372.0 304.0,383.2 304.3,394.4 304.6,405.6 305.0,416.8 305.4,428.0 305.8,439.2 306.4,450.4 307.1,461.6 307.8,472.8 308.7,483.9 309.5,495.1 310.5,506.3 311.4,517.5 312.3,528.7 313.2,539.9 314.2,551.1 315.1,562.3 316.0,573.5 317.1,584.7 318.3,595.9 319.7,607.1 321.4,618.3 323.2,629.5 325.3,640.7 327.5,651.9 329.7,663.1 332.0,674.2 334.4,685.4 337.0,696.6 339.6,707.8 342.3,719.0 345.1,730.2 347.9,741.4 350.6,752.6 353.2,763.8 355.6,775.0 355.7,775.0 353.6,763.8 351.3,752.6 348.8,741.4 346.3,730.2 343.9,719.0 341.5,707.8 339.1,696.6 336.8,685.4 334.6,674.2 332.5,663.1 330.6,651.9 328.6,640.7 326.8,629.5 325.1,618.3 323.6,607.1 322.4,595.9 321.3,584.7 320.3,573.5 319.5,562.3 318.7,551.1 317.8,539.9 317.0,528.7 316.2,517.5 315.3,506.3 314.5,495.1 313.7,483.9 313.0,472.8 312.3,461.6 311.7,450.4 311.2,439.2 310.8,428.0 310.4,416.8 310.1,405.6 309.8,394.4 309.5,383.2 309.2,372.0" fill="#e8d7cb"/>
<polygon points="309.2,372.0 309.5,383.2 309.8,394.4 310.1,405.6 310.4,416.8 310.8,428.0 311.2,439.2 311.7,450.4 312.3,461.6 313.0,472.8 313.7,483.9 314.5,495.1 315.3,506.3 316.2,517.5 317.0,528.7 317.8,539.9 318.7,551.1 319.5,562.3 320.3,573.5 321.3,584.7 322.4,595.9 323.6,607.1 325.1,618.3 326.8,629.5 328.6,640.7 330.6,651.9 332.5,663.1 334.6,674.2 336.8,685.4 339.1,696.6 341.5,707.8 343.9,719.0 346.3,730.2 348.8,741.4 351.3,752.6 353.6,763.8 355.7,775.0 355.8,775.0 353.9,763.8 351.9,752.6 349.7,741.4 347.4,730.2 345.2,719.0 343.0,707.8 340.9,696.6 338.8,685.4 336.8,674.2 335.0,663.1 333.2,651.9 331.5,640.7 329.8,629.5 328.3,618.3 327.0,607.1 325.9,595.9 324.9,584.7 324.0,573.5 323.2,562.3 322.5,551.1 321.8,539.9 321.0,528.7 320.3,517.5 319.5,506.3 318.8,495.1 318.1,483.9 317.4,472.8 316.8,461.6 316.3,450.4 315.8,439.2 315.4,428.0 315.1,416.8 314.8,405.6 314.6,394.4 314.3,383.2 314.0,372.0" fill="#c8b3a2"/>
<polygon points="314.0,372.0 314.3,383.2 314.6,394.4 314.8,405.6 315.1,416.8 315.4,428.0 315.8,439.2 316.3,450.4 316.8,461.6 317.4,472.8 318.1,483.9 318.8,495.1 319.5,506.3 320.3,517.5 321.0,528.7 321.8,539.9 322.5,551.1 323.2,562.3 324.0,573.5 324.9,584.7 325.9,595.9 327.0,607.1 328.3,618.3 329.8,629.5 331.5,640.7 333.2,651.9 335.0,663.1 336.8,674.2 338.8,685.4 340.9,696.6 343.0,707.8 345.2,719.0 347.4,730.2 349.7,741.4 351.9,752.6 353.9,763.8 355.8,775.0 355.9,775.0 354.1,763.8 352.2,752.6 350.2,741.4 348.1,730.2 346.0,719.0 344.0,707.8 342.0,696.6 340.1,685.4 338.2,674.2 336.5,663.1 334.8,651.9 333.2,640.7 331.7,629.5 330.3,618.3 329.0,607.1 328.0,595.9 327.1,584.7 326.3,573.5 325.6,562.3 324.9,551.1 324.2,539.9 323.5,528.7 322.8,517.5 322.1,506.3 321.4,495.1 320.8,483.9 320.1,472.8 319.6,461.6 319.0,450.4 318.6,439.2 318.3,428.0 318.0,416.8 317.7,405.6 317.5,394.4 317.2,383.2 316.9,372.0" fill="#99836e"/>
<polygon points="316.9,372.0 317.2,383.2 317.5,394.4 317.7,405.6 318.0,416.8 318.3,428.0 318.6,439.2 319.0,450.4 319.6,461.6 320.1,472.8 320.8,483.9 321.4,495.1 322.1,506.3 322.8,517.5 323.5,528.7 324.2,539.9 324.9,551.1 325.6,562.3 326.3,573.5 327.1,584.7 328.0,595.9 329.0,607.1 330.3,618.3 331.7,629.5 333.2,640.7 334.8,651.9 336.5,663.1 338.2,674.2 340.1,685.4 342.0,696.6 344.0,707.8 346.0,719.0 348.1,730.2 350.2,741.4 352.2,752.6 354.1,763.8 355.9,775.0 356.1,775.0 354.5,763.8 352.9,752.6 351.1,741.4 349.3,730.2 347.5,719.0 345.8,707.8 344.1,696.6 342.4,685.4 340.8,674.2 339.4,663.1 337.9,651.9 336.5,640.7 335.2,629.5 334.0,618.3 333.0,607.1 332.0,595.9 331.3,584.7 330.6,573.5 330.0,562.3 329.4,551.1 328.8,539.9 328.2,528.7 327.6,517.5 327.0,506.3 326.4,495.1 325.8,483.9 325.3,472.8 324.8,461.6 324.4,450.4 324.0,439.2 323.7,428.0 323.4,416.8 323.2,405.6 323.0,394.4 322.8,383.2 322.5,372.0" fill="#dfcbbd"/>
<polygon points="322.5,372.0 322.8,383.2 323.0,394.4 323.2,405.6 323.4,416.8 323.7,428.0 324.0,439.2 324.4,450.4 324.8,461.6 325.3,472.8 325.8,483.9 326.4,495.1 327.0,506.3 327.6,517.5 328.2,528.7 328.8,539.9 329.4,551.1 330.0,562.3 330.6,573.5 331.3,584.7 332.0,595.9 333.0,607.1 334.0,618.3 335.2,629.5 336.5,640.7 337.9,651.9 339.4,663.1 340.8,674.2 342.4,685.4 344.1,696.6 345.8,707.8 347.5,719.0 349.3,730.2 351.1,741.4 352.9,752.6 354.5,763.8 356.1,775.0 356.2,775.0 354.9,763.8 353.5,752.6 351.9,741.4 350.4,730.2 348.8,719.0 347.4,707.8 345.9,696.6 344.5,685.4 343.1,674.2 341.8,663.1 340.6,651.9 339.4,640.7 338.3,629.5 337.2,618.3 336.3,607.1 335.5,595.9 334.9,584.7 334.3,573.5 333.7,562.3 333.2,551.1 332.7,539.9 332.2,528.7 331.7,517.5 331.2,506.3 330.7,495.1 330.2,483.9 329.7,472.8 329.3,461.6 328.9,450.4 328.6,439.2 328.3,428.0 328.1,416.8 327.9,405.6 327.7,394.4 327.6,383.2 327.3,372.0" fill="#d0bcab"/>
<polygon points="327.3,372.0 327.6,383.2 327.7,394.4 327.9,405.6 328.1,416.8 328.3,428.0 328.6,439.2 328.9,450.4 329.3,461.6 329.7,472.8 330.2,483.9 330.7,495.1 331.2,506.3 331.7,517.5 332.2,528.7 332.7,539.9 333.2,551.1 333.7,562.3 334.3,573.5 334.9,584.7 335.5,595.9 336.3,607.1 337.2,618.3 338.3,629.5 339.4,640.7 340.6,651.9 341.8,663.1 343.1,674.2 344.5,685.4 345.9,696.6 347.4,707.8 348.8,719.0 350.4,730.2 351.9,741.4 353.5,752.6 354.9,763.8 356.2,775.0 356.3,775.0 355.1,763.8 353.8,752.6 352.4,741.4 351.0,730.2 349.7,719.0 348.3,707.8 347.0,696.6 345.7,685.4 344.5,674.2 343.3,663.1 342.2,651.9 341.1,640.7 340.1,629.5 339.2,618.3 338.4,607.1 337.7,595.9 337.1,584.7 336.5,573.5 336.0,562.3 335.6,551.1 335.1,539.9 334.7,528.7 334.2,517.5 333.7,506.3 333.3,495.1 332.8,483.9 332.4,472.8 332.0,461.6 331.7,450.4 331.4,439.2 331.2,428.0 331.0,416.8 330.8,405.6 330.6,394.4 330.5,383.2 330.3,372.0" fill="#87705b"/>
<polygon points="330.3,372.0 330.5,383.2 330.6,394.4 330.8,405.6 331.0,416.8 331.2,428.0 331.4,439.2 331.7,450.4 332.0,461.6 332.4,472.8 332.8,483.9 333.3,495.1 333.7,506.3 334.2,517.5 334.7,528.7 335.1,539.9 335.6,551.1 336.0,562.3 336.5,573.5 337.1,584.7 337.7,595.9 338.4,607.1 339.2,618.3 340.1,629.5 341.1,640.7 342.2,651.9 343.3,663.1 344.5,674.2 345.7,685.4 347.0,696.6 348.3,707.8 349.7,719.0 351.0,730.2 352.4,741.4 353.8,752.6 355.1,763.8 356.3,775.0 356.4,775.0 355.5,763.8 354.5,752.6 353.4,741.4 352.3,730.2 351.2,719.0 350.1,707.8 349.1,696.6 348.1,685.4 347.1,674.2 346.2,663.1 345.3,651.9 344.5,640.7 343.7,629.5 342.9,618.3 342.3,607.1 341.7,595.9 341.2,584.7 340.8,573.5 340.4,562.3 340.1,551.1 339.7,539.9 339.4,528.7 339.0,517.5 338.6,506.3 338.3,495.1 337.9,483.9 337.6,472.8 337.3,461.6 337.0,450.4 336.8,439.2 336.6,428.0 336.4,416.8 336.3,405.6 336.2,394.4 336.0,383.2 335.9,372.0" fill="#e6d4c7"/>
<polygon points="335.9,372.0 336.0,383.2 336.2,394.4 336.3,405.6 336.4,416.8 336.6,428.0 336.8,439.2 337.0,450.4 337.3,461.6 337.6,472.8 337.9,483.9 338.3,495.1 338.6,506.3 339.0,517.5 339.4,528.7 339.7,539.9 340.1,551.1 340.4,562.3 340.8,573.5 341.2,584.7 341.7,595.9 342.3,607.1 342.9,618.3 343.7,629.5 344.5,640.7 345.3,651.9 346.2,663.1 347.1,674.2 348.1,685.4 349.1,696.6 350.1,707.8 351.2,719.0 352.3,730.2 353.4,741.4 354.5,752.6 355.5,763.8 356.4,775.0 356.6,775.0 355.8,763.8 355.1,752.6 354.2,741.4 353.4,730.2 352.5,719.0 351.7,707.8 350.9,696.6 350.1,685.4 349.4,674.2 348.7,663.1 348.0,651.9 347.3,640.7 346.7,629.5 346.1,618.3 345.6,607.1 345.2,595.9 344.8,584.7 344.5,573.5 344.2,562.3 343.9,551.1 343.7,539.9 343.4,528.7 343.1,517.5 342.8,506.3 342.5,495.1 342.3,483.9 342.0,472.8 341.8,461.6 341.6,450.4 341.4,439.2 341.3,428.0 341.1,416.8 341.0,405.6 340.9,394.4 340.8,383.2 340.7,372.0" fill="#cdb9a8"/>
<polygon points="340.7,372.0 340.8,383.2 340.9,394.4 341.0,405.6 341.1,416.8 341.3,428.0 341.4,439.2 341.6,450.4 341.8,461.6 342.0,472.8 342.3,483.9 342.5,495.1 342.8,506.3 343.1,517.5 343.4,528.7 343.7,539.9 343.9,551.1 344.2,562.3 344.5,573.5 344.8,584.7 345.2,595.9 345.6,607.1 346.1,618.3 346.7,629.5 347.3,640.7 348.0,651.9 348.7,663.1 349.4,674.2 350.1,685.4 350.9,696.6 351.7,707.8 352.5,719.0 353.4,730.2 354.2,741.4 355.1,752.6 355.8,763.8 356.6,775.0 356.6,775.0 356.0,763.8 355.4,752.6 354.7,741.4 354.0,730.2 353.3,719.0 352.7,707.8 352.0,696.6 351.4,685.4 350.7,674.2 350.2,663.1 349.6,651.9 349.1,640.7 348.6,629.5 348.1,618.3 347.7,607.1 347.3,595.9 347.0,584.7 346.8,573.5 346.5,562.3 346.3,551.1 346.1,539.9 345.8,528.7 345.6,517.5 345.4,506.3 345.1,495.1 344.9,483.9 344.7,472.8 344.5,461.6 344.3,450.4 344.2,439.2 344.1,428.0 344.0,416.8 343.9,405.6 343.8,394.4 343.7,383.2 343.6,372.0" fill="#8f7863"/>
<polygon points="343.6,372.0 343.7,383.2 343.8,394.4 343.9,405.6 344.0,416.8 344.1,428.0 344.2,439.2 344.3,450.4 344.5,461.6 344.7,472.8 344.9,483.9 345.1,495.1 345.4,506.3 345.6,517.5 345.8,528.7 346.1,539.9 346.3,551.1 346.5,562.3 346.8,573.5 347.0,584.7 347.3,595.9 347.7,607.1 348.1,618.3 348.6,629.5 349.1,640.7 349.6,651.9 350.2,663.1 350.7,674.2 351.4,685.4 352.0,696.6 352.7,707.8 353.3,719.0 354.0,730.2 354.7,741.4 355.4,752.6 356.0,763.8 356.6,775.0 356.8,775.0 356.4,763.8 356.1,752.6 355.7,741.4 355.3,730.2 354.9,719.0 354.5,707.8 354.1,696.6 353.7,685.4 353.4,674.2 353.0,663.1 352.7,651.9 352.4,640.7 352.1,629.5 351.8,618.3 351.6,607.1 351.4,595.9 351.2,584.7 351.1,573.5 350.9,562.3 350.8,551.1 350.7,539.9 350.5,528.7 350.4,517.5 350.3,506.3 350.1,495.1 350.0,483.9 349.9,472.8 349.8,461.6 349.7,450.4 349.6,439.2 349.5,428.0 349.5,416.8 349.4,405.6 349.4,394.4 349.3,383.2 349.3,372.0" fill="#e2cfc1"/>
<polygon points="349.3,372.0 349.3,383.2 349.4,394.4 349.4,405.6 349.5,416.8 349.5,428.0 349.6,439.2 349.7,450.4 349.8,461.6 349.9,472.8 350.0,483.9 350.1,495.1 350.3,506.3 350.4,517.5 350.5,528.7 350.7,539.9 350.8,551.1 350.9,562.3 351.1,573.5 351.2,584.7 351.4,595.9 351.6,607.1 351.8,618.3 352.1,629.5 352.4,640.7 352.7,651.9 353.0,663.1 353.4,674.2 353.7,685.4 354.1,696.6 354.5,707.8 354.9,719.0 355.3,730.2 355.7,741.4 356.1,752.6 356.4,763.8 356.8,775.0 356.9,775.0 356.8,763.8 356.6,752.6 356.5,741.4 356.3,730.2 356.2,719.0 356.0,707.8 355.9,696.6 355.8,685.4 355.6,674.2 355.5,663.1 355.4,651.9 355.3,640.7 355.1,629.5 355.0,618.3 354.9,607.1 354.9,595.9 354.8,584.7 354.7,573.5 354.7,562.3 354.6,551.1 354.6,539.9 354.5,528.7 354.5,517.5 354.4,506.3 354.4,495.1 354.3,483.9 354.3,472.8 354.3,461.6 354.2,450.4 354.2,439.2 354.2,428.0 354.1,416.8 354.1,405.6 354.1,394.4 354.1,383.2 354.1,372.0" fill="#c8b3a2"/>
<polygon points="354.1,372.0 354.1,383.2 354.1,394.4 354.1,405.6 354.1,416.8 354.2,428.0 354.2,439.2 354.2,450.4 354.3,461.6 354.3,472.8 354.3,483.9 354.4,495.1 354.4,506.3 354.5,517.5 354.5,528.7 354.6,539.9 354.6,551.1 354.7,562.3 354.7,573.5 354.8,584.7 354.9,595.9 354.9,607.1 355.0,618.3 355.1,629.5 355.3,640.7 355.4,651.9 355.5,663.1 355.6,674.2 355.8,685.4 355.9,696.6 356.0,707.8 356.2,719.0 356.3,730.2 356.5,741.4 356.6,752.6 356.8,763.8 356.9,775.0 357.0,775.0 357.0,763.8 357.0,752.6 357.0,741.4 357.0,730.2 357.0,719.0 357.0,707.8 357.0,696.6 357.0,685.4 357.0,674.2 357.0,663.1 357.0,651.9 357.0,640.7 357.0,629.5 357.0,618.3 357.0,607.1 357.0,595.9 357.0,584.7 357.0,573.5 357.0,562.3 357.0,551.1 357.0,539.9 357.0,528.7 357.0,517.5 357.0,506.3 357.0,495.1 357.0,483.9 357.0,472.8 357.0,461.6 357.0,450.4 357.0,439.2 357.0,428.0 357.0,416.8 357.0,405.6 357.0,394.4 357.0,383.2 357.0,372.0" fill="#99836e"/>
<polygon points="216,378 235,378 357,519 357,545" fill="#55524f"/>
<polygon points="216,378 222,378 357,538 357,545" fill="#413f3d"/>
<polygon points="405.0,374.0 405.0,385.2 405.0,396.3 405.0,407.5 405.0,418.7 405.0,429.8 405.0,441.0 405.0,452.2 405.0,463.3 405.0,474.5 405.0,485.7 405.0,496.8 405.0,508.0 405.0,519.2 405.0,530.3 405.0,541.5 405.0,552.7 405.0,563.8 405.0,575.0 405.0,586.2 405.0,597.3 405.0,608.5 405.0,619.7 405.0,630.8 405.0,642.0 405.0,653.2 405.0,664.3 405.0,675.5 405.0,686.7 405.0,697.8 405.0,709.0 405.0,720.2 405.0,731.3 405.0,742.5 405.0,753.7 405.0,764.8 405.0,776.0 405.4,776.0 405.4,764.8 405.8,753.7 406.3,742.5 406.9,731.3 407.4,720.2 408.0,709.0 408.6,697.8 409.1,686.7 409.6,675.5 410.0,664.3 410.5,653.2 410.9,642.0 411.3,630.8 411.6,619.7 411.9,608.5 412.1,597.3 412.3,586.2 412.5,575.0 412.6,563.8 412.7,552.7 412.8,541.5 412.9,530.3 413.0,519.2 413.0,508.0 413.0,496.8 413.1,485.7 413.1,474.5 413.1,463.3 413.1,452.2 413.1,441.0 413.1,429.8 413.0,418.7 413.0,407.5 413.0,396.3 413.0,385.2 413.0,374.0" fill="#cdbaaa"/>
<polygon points="413.0,374.0 413.0,385.2 413.0,396.3 413.0,407.5 413.0,418.7 413.1,429.8 413.1,441.0 413.1,452.2 413.1,463.3 413.1,474.5 413.1,485.7 413.0,496.8 413.0,508.0 413.0,519.2 412.9,530.3 412.8,541.5 412.7,552.7 412.6,563.8 412.5,575.0 412.3,586.2 412.1,597.3 411.9,608.5 411.6,619.7 411.3,630.8 410.9,642.0 410.5,653.2 410.0,664.3 409.6,675.5 409.1,686.7 408.6,697.8 408.0,709.0 407.4,720.2 406.9,731.3 406.3,742.5 405.8,753.7 405.4,764.8 405.4,776.0 405.5,776.0 405.5,764.8 406.0,753.7 406.7,742.5 407.4,731.3 408.2,720.2 408.9,709.0 409.7,697.8 410.3,686.7 411.0,675.5 411.6,664.3 412.1,653.2 412.7,642.0 413.2,630.8 413.6,619.7 414.0,608.5 414.3,597.3 414.5,586.2 414.8,575.0 414.9,563.8 415.1,552.7 415.2,541.5 415.3,530.3 415.4,519.2 415.4,508.0 415.5,496.8 415.5,485.7 415.5,474.5 415.5,463.3 415.5,452.2 415.5,441.0 415.5,429.8 415.5,418.7 415.4,407.5 415.4,396.3 415.4,385.2 415.4,374.0" fill="#e2d1c4"/>
<polygon points="415.4,374.0 415.4,385.2 415.4,396.3 415.4,407.5 415.5,418.7 415.5,429.8 415.5,441.0 415.5,452.2 415.5,463.3 415.5,474.5 415.5,485.7 415.5,496.8 415.4,508.0 415.4,519.2 415.3,530.3 415.2,541.5 415.1,552.7 414.9,563.8 414.8,575.0 414.5,586.2 414.3,597.3 414.0,608.5 413.6,619.7 413.2,630.8 412.7,642.0 412.1,653.2 411.6,664.3 411.0,675.5 410.3,686.7 409.7,697.8 408.9,709.0 408.2,720.2 407.4,731.3 406.7,742.5 406.0,753.7 405.5,764.8 405.5,776.0 406.0,776.0 406.0,764.8 406.9,753.7 408.1,742.5 409.5,731.3 410.9,720.2 412.3,709.0 413.6,697.8 414.9,686.7 416.0,675.5 417.1,664.3 418.2,653.2 419.2,642.0 420.1,630.8 420.9,619.7 421.6,608.5 422.1,597.3 422.6,586.2 423.0,575.0 423.3,563.8 423.6,552.7 423.8,541.5 424.0,530.3 424.1,519.2 424.2,508.0 424.3,496.8 424.4,485.7 424.4,474.5 424.4,463.3 424.4,452.2 424.4,441.0 424.3,429.8 424.3,418.7 424.3,407.5 424.2,396.3 424.2,385.2 424.2,374.0" fill="#9a8470"/>
<polygon points="424.2,374.0 424.2,385.2 424.2,396.3 424.3,407.5 424.3,418.7 424.3,429.8 424.4,441.0 424.4,452.2 424.4,463.3 424.4,474.5 424.4,485.7 424.3,496.8 424.2,508.0 424.1,519.2 424.0,530.3 423.8,541.5 423.6,552.7 423.3,563.8 423.0,575.0 422.6,586.2 422.1,597.3 421.6,608.5 420.9,619.7 420.1,630.8 419.2,642.0 418.2,653.2 417.1,664.3 416.0,675.5 414.9,686.7 413.6,697.8 412.3,709.0 410.9,720.2 409.5,731.3 408.1,742.5 406.9,753.7 406.0,764.8 406.0,776.0 406.1,776.0 406.1,764.8 407.1,753.7 408.5,742.5 410.0,731.3 411.6,720.2 413.2,709.0 414.7,697.8 416.1,686.7 417.4,675.5 418.6,664.3 419.8,653.2 420.9,642.0 422.0,630.8 422.9,619.7 423.6,608.5 424.3,597.3 424.8,586.2 425.3,575.0 425.6,563.8 425.9,552.7 426.2,541.5 426.3,530.3 426.5,519.2 426.6,508.0 426.7,496.8 426.8,485.7 426.8,474.5 426.8,463.3 426.8,452.2 426.8,441.0 426.7,429.8 426.7,418.7 426.7,407.5 426.6,396.3 426.6,385.2 426.6,374.0" fill="#e0cec1"/>
<polygon points="426.6,374.0 426.6,385.2 426.6,396.3 426.7,407.5 426.7,418.7 426.7,429.8 426.8,441.0 426.8,452.2 426.8,463.3 426.8,474.5 426.8,485.7 426.7,496.8 426.6,508.0 426.5,519.2 426.3,530.3 426.2,541.5 425.9,552.7 425.6,563.8 425.3,575.0 424.8,586.2 424.3,597.3 423.6,608.5 422.9,619.7 422.0,630.8 420.9,642.0 419.8,653.2 418.6,664.3 417.4,675.5 416.1,686.7 414.7,697.8 413.2,709.0 411.6,720.2 410.0,731.3 408.5,742.5 407.1,753.7 406.1,764.8 406.1,776.0 406.5,776.0 406.6,764.8 407.9,753.7 409.9,742.5 412.1,731.3 414.3,720.2 416.5,709.0 418.6,697.8 420.6,686.7 422.4,675.5 424.2,664.3 425.9,653.2 427.4,642.0 428.9,630.8 430.1,619.7 431.2,608.5 432.1,597.3 432.9,586.2 433.5,575.0 434.0,563.8 434.4,552.7 434.8,541.5 435.0,530.3 435.3,519.2 435.5,508.0 435.6,496.8 435.6,485.7 435.7,474.5 435.7,463.3 435.7,452.2 435.6,441.0 435.6,429.8 435.6,418.7 435.5,407.5 435.5,396.3 435.4,385.2 435.4,374.0" fill="#97816d"/>
<polygon points="435.4,374.0 435.4,385.2 435.5,396.3 435.5,407.5 435.6,418.7 435.6,429.8 435.6,441.0 435.7,452.2 435.7,463.3 435.7,474.5 435.6,485.7 435.6,496.8 435.5,508.0 435.3,519.2 435.0,530.3 434.8,541.5 434.4,552.7 434.0,563.8 433.5,575.0 432.9,586.2 432.1,597.3 431.2,608.5 430.1,619.7 428.9,630.8 427.4,642.0 425.9,653.2 424.2,664.3 422.4,675.5 420.6,686.7 418.6,697.8 416.5,709.0 414.3,720.2 412.1,731.3 409.9,742.5 407.9,753.7 406.6,764.8 406.5,776.0 406.6,776.0 406.7,764.8 408.2,753.7 410.3,742.5 412.6,731.3 415.0,720.2 417.4,709.0 419.7,697.8 421.9,686.7 423.8,675.5 425.7,664.3 427.5,653.2 429.2,642.0 430.8,630.8 432.1,619.7 433.3,608.5 434.3,597.3 435.1,586.2 435.8,575.0 436.3,563.8 436.8,552.7 437.1,541.5 437.4,530.3 437.7,519.2 437.9,508.0 438.0,496.8 438.1,485.7 438.1,474.5 438.1,463.3 438.1,452.2 438.1,441.0 438.0,429.8 438.0,418.7 437.9,407.5 437.9,396.3 437.8,385.2 437.8,374.0" fill="#e5d5c8"/>
<polygon points="437.8,374.0 437.8,385.2 437.9,396.3 437.9,407.5 438.0,418.7 438.0,429.8 438.1,441.0 438.1,452.2 438.1,463.3 438.1,474.5 438.1,485.7 438.0,496.8 437.9,508.0 437.7,519.2 437.4,530.3 437.1,541.5 436.8,552.7 436.3,563.8 435.8,575.0 435.1,586.2 434.3,597.3 433.3,608.5 432.1,619.7 430.8,630.8 429.2,642.0 427.5,653.2 425.7,664.3 423.8,675.5 421.9,686.7 419.7,697.8 417.4,709.0 415.0,720.2 412.6,731.3 410.3,742.5 408.2,753.7 406.7,764.8 406.6,776.0 407.0,776.0 407.1,764.8 408.9,753.7 411.4,742.5 414.3,731.3 417.2,720.2 420.1,709.0 422.9,697.8 425.6,686.7 427.9,675.5 430.2,664.3 432.4,653.2 434.5,642.0 436.4,630.8 438.1,619.7 439.5,608.5 440.7,597.3 441.7,586.2 442.5,575.0 443.2,563.8 443.7,552.7 444.2,541.5 444.5,530.3 444.8,519.2 445.1,508.0 445.2,496.8 445.3,485.7 445.4,474.5 445.4,463.3 445.4,452.2 445.3,441.0 445.3,429.8 445.2,418.7 445.1,407.5 445.1,396.3 445.0,385.2 445.0,374.0" fill="#cfbcac"/>
<polygon points="427,392 441,394 406,537 405,537 405,480" fill="#3d3b39"/>
<rect x="334" y="775" width="75" height="36" fill="url(#tie)"/>
<polygon points="335.0,810.0 334.0,822.2 332.5,834.4 329.1,846.7 323.0,858.9 315.6,871.1 308.2,883.3 302.1,895.6 297.8,907.8 294.7,920.0 292.3,932.2 289.9,944.4 287.1,956.7 284.1,968.9 281.0,981.1 277.9,993.3 274.9,1005.6 272.2,1017.8 269.6,1030.0 267.3,1042.2 264.9,1054.4 262.6,1066.7 260.2,1078.9 257.8,1091.1 255.4,1103.3 253.0,1115.6 250.6,1127.8 248.2,1140.0 245.8,1152.2 243.2,1164.4 240.6,1176.7 238.4,1188.9 236.2,1201.1 234.1,1213.3 231.9,1225.6 229.8,1237.8 228.0,1250.0 241.2,1250.0 242.8,1237.8 244.7,1225.6 246.7,1213.3 248.6,1201.1 250.5,1188.9 252.6,1176.7 254.8,1164.4 257.2,1152.2 259.4,1140.0 261.5,1127.8 263.7,1115.6 265.9,1103.3 268.0,1091.1 270.2,1078.9 272.4,1066.7 274.4,1054.4 276.5,1042.2 278.7,1030.0 281.0,1017.8 283.4,1005.6 286.1,993.3 288.9,981.1 291.6,968.9 294.4,956.7 296.9,944.4 299.0,932.2 301.2,920.0 304.0,907.8 307.9,895.6 313.4,883.3 320.0,871.1 326.7,858.9 332.2,846.7 335.2,834.4 336.6,822.2 337.5,810.0" fill="#c9b9a9"/>
<polygon points="337.5,810.0 336.6,822.2 335.2,834.4 332.2,846.7 326.7,858.9 320.0,871.1 313.4,883.3 307.9,895.6 304.0,907.8 301.2,920.0 299.0,932.2 296.9,944.4 294.4,956.7 291.6,968.9 288.9,981.1 286.1,993.3 283.4,1005.6 281.0,1017.8 278.7,1030.0 276.5,1042.2 274.4,1054.4 272.4,1066.7 270.2,1078.9 268.0,1091.1 265.9,1103.3 263.7,1115.6 261.5,1127.8 259.4,1140.0 257.2,1152.2 254.8,1164.4 252.6,1176.7 250.5,1188.9 248.6,1201.1 246.7,1213.3 244.7,1225.6 242.8,1237.8 241.2,1250.0 244.5,1250.0 246.1,1237.8 247.9,1225.6 249.8,1213.3 251.7,1201.1 253.6,1188.9 255.6,1176.7 257.8,1164.4 260.0,1152.2 262.2,1140.0 264.3,1127.8 266.4,1115.6 268.5,1103.3 270.6,1091.1 272.7,1078.9 274.8,1066.7 276.8,1054.4 278.9,1042.2 280.9,1030.0 283.2,1017.8 285.6,1005.6 288.2,993.3 290.8,981.1 293.5,968.9 296.2,956.7 298.7,944.4 300.7,932.2 302.9,920.0 305.5,907.8 309.3,895.6 314.7,883.3 321.2,871.1 327.6,858.9 333.0,846.7 335.9,834.4 337.3,822.2 338.1,810.0" fill="#a8937f"/>
<polygon points="338.1,810.0 337.3,822.2 335.9,834.4 333.0,846.7 327.6,858.9 321.2,871.1 314.7,883.3 309.3,895.6 305.5,907.8 302.9,920.0 300.7,932.2 298.7,944.4 296.2,956.7 293.5,968.9 290.8,981.1 288.2,993.3 285.6,1005.6 283.2,1017.8 280.9,1030.0 278.9,1042.2 276.8,1054.4 274.8,1066.7 272.7,1078.9 270.6,1091.1 268.5,1103.3 266.4,1115.6 264.3,1127.8 262.2,1140.0 260.0,1152.2 257.8,1164.4 255.6,1176.7 253.6,1188.9 251.7,1201.1 249.8,1213.3 247.9,1225.6 246.1,1237.8 244.5,1250.0 261.0,1250.0 262.3,1237.8 263.9,1225.6 265.5,1213.3 267.2,1201.1 268.8,1188.9 270.5,1176.7 272.4,1164.4 274.3,1152.2 276.1,1140.0 278.0,1127.8 279.8,1115.6 281.6,1103.3 283.4,1091.1 285.2,1078.9 287.0,1066.7 288.7,1054.4 290.4,1042.2 292.2,1030.0 294.1,1017.8 296.2,1005.6 298.4,993.3 300.7,981.1 303.0,968.9 305.3,956.7 307.4,944.4 309.2,932.2 311.0,920.0 313.3,907.8 316.6,895.6 321.2,883.3 326.7,871.1 332.3,858.9 336.8,846.7 339.4,834.4 340.5,822.2 341.2,810.0" fill="#dccabb"/>
<polygon points="341.2,810.0 340.5,822.2 339.4,834.4 336.8,846.7 332.3,858.9 326.7,871.1 321.2,883.3 316.6,895.6 313.3,907.8 311.0,920.0 309.2,932.2 307.4,944.4 305.3,956.7 303.0,968.9 300.7,981.1 298.4,993.3 296.2,1005.6 294.1,1017.8 292.2,1030.0 290.4,1042.2 288.7,1054.4 287.0,1066.7 285.2,1078.9 283.4,1091.1 281.6,1103.3 279.8,1115.6 278.0,1127.8 276.1,1140.0 274.3,1152.2 272.4,1164.4 270.5,1176.7 268.8,1188.9 267.2,1201.1 265.5,1213.3 263.9,1225.6 262.3,1237.8 261.0,1250.0 264.3,1250.0 265.6,1237.8 267.1,1225.6 268.7,1213.3 270.3,1201.1 271.8,1188.9 273.5,1176.7 275.3,1164.4 277.2,1152.2 278.9,1140.0 280.7,1127.8 282.4,1115.6 284.2,1103.3 285.9,1091.1 287.7,1078.9 289.4,1066.7 291.1,1054.4 292.8,1042.2 294.5,1030.0 296.3,1017.8 298.3,1005.6 300.5,993.3 302.7,981.1 304.9,968.9 307.1,956.7 309.2,944.4 310.9,932.2 312.7,920.0 314.9,907.8 318.0,895.6 322.5,883.3 327.8,871.1 333.2,858.9 337.6,846.7 340.0,834.4 341.2,822.2 341.9,810.0" fill="#a5907c"/>
<polygon points="341.9,810.0 341.2,822.2 340.0,834.4 337.6,846.7 333.2,858.9 327.8,871.1 322.5,883.3 318.0,895.6 314.9,907.8 312.7,920.0 310.9,932.2 309.2,944.4 307.1,956.7 304.9,968.9 302.7,981.1 300.5,993.3 298.3,1005.6 296.3,1017.8 294.5,1030.0 292.8,1042.2 291.1,1054.4 289.4,1066.7 287.7,1078.9 285.9,1091.1 284.2,1103.3 282.4,1115.6 280.7,1127.8 278.9,1140.0 277.2,1152.2 275.3,1164.4 273.5,1176.7 271.8,1188.9 270.3,1201.1 268.7,1213.3 267.1,1225.6 265.6,1237.8 264.3,1250.0 278.2,1250.0 279.3,1237.8 280.6,1225.6 281.9,1213.3 283.3,1201.1 284.6,1188.9 286.0,1176.7 287.6,1164.4 289.2,1152.2 290.7,1140.0 292.2,1127.8 293.7,1115.6 295.2,1103.3 296.7,1091.1 298.1,1078.9 299.6,1066.7 301.1,1054.4 302.5,1042.2 304.0,1030.0 305.6,1017.8 307.3,1005.6 309.1,993.3 311.0,981.1 312.9,968.9 314.8,956.7 316.5,944.4 318.0,932.2 319.5,920.0 321.4,907.8 324.1,895.6 327.9,883.3 332.5,871.1 337.1,858.9 340.8,846.7 342.9,834.4 343.9,822.2 344.5,810.0" fill="#e1d0c1"/>
<polygon points="344.5,810.0 343.9,822.2 342.9,834.4 340.8,846.7 337.1,858.9 332.5,871.1 327.9,883.3 324.1,895.6 321.4,907.8 319.5,920.0 318.0,932.2 316.5,944.4 314.8,956.7 312.9,968.9 311.0,981.1 309.1,993.3 307.3,1005.6 305.6,1017.8 304.0,1030.0 302.5,1042.2 301.1,1054.4 299.6,1066.7 298.1,1078.9 296.7,1091.1 295.2,1103.3 293.7,1115.6 292.2,1127.8 290.7,1140.0 289.2,1152.2 287.6,1164.4 286.0,1176.7 284.6,1188.9 283.3,1201.1 281.9,1213.3 280.6,1225.6 279.3,1237.8 278.2,1250.0 281.5,1250.0 282.5,1237.8 283.8,1225.6 285.1,1213.3 286.3,1201.1 287.6,1188.9 289.0,1176.7 290.5,1164.4 292.0,1152.2 293.5,1140.0 294.9,1127.8 296.3,1115.6 297.8,1103.3 299.2,1091.1 300.6,1078.9 302.1,1066.7 303.4,1054.4 304.8,1042.2 306.2,1030.0 307.8,1017.8 309.4,1005.6 311.1,993.3 313.0,981.1 314.8,968.9 316.6,956.7 318.3,944.4 319.7,932.2 321.2,920.0 323.0,907.8 325.5,895.6 329.2,883.3 333.6,871.1 338.0,858.9 341.6,846.7 343.6,834.4 344.5,822.2 345.1,810.0" fill="#a8937f"/>
<polygon points="345.1,810.0 344.5,822.2 343.6,834.4 341.6,846.7 338.0,858.9 333.6,871.1 329.2,883.3 325.5,895.6 323.0,907.8 321.2,920.0 319.7,932.2 318.3,944.4 316.6,956.7 314.8,968.9 313.0,981.1 311.1,993.3 309.4,1005.6 307.8,1017.8 306.2,1030.0 304.8,1042.2 303.4,1054.4 302.1,1066.7 300.6,1078.9 299.2,1091.1 297.8,1103.3 296.3,1115.6 294.9,1127.8 293.5,1140.0 292.0,1152.2 290.5,1164.4 289.0,1176.7 287.6,1188.9 286.3,1201.1 285.1,1213.3 283.8,1225.6 282.5,1237.8 281.5,1250.0 296.6,1250.0 297.5,1237.8 298.5,1225.6 299.5,1213.3 300.6,1201.1 301.6,1188.9 302.7,1176.7 303.9,1164.4 305.2,1152.2 306.3,1140.0 307.5,1127.8 308.6,1115.6 309.8,1103.3 311.0,1091.1 312.1,1078.9 313.3,1066.7 314.4,1054.4 315.5,1042.2 316.6,1030.0 317.9,1017.8 319.2,1005.6 320.6,993.3 322.1,981.1 323.5,968.9 325.0,956.7 326.4,944.4 327.5,932.2 328.7,920.0 330.1,907.8 332.2,895.6 335.1,883.3 338.7,871.1 342.3,858.9 345.2,846.7 346.8,834.4 347.5,822.2 348.0,810.0" fill="#dccabb"/>
<polygon points="348.0,810.0 347.5,822.2 346.8,834.4 345.2,846.7 342.3,858.9 338.7,871.1 335.1,883.3 332.2,895.6 330.1,907.8 328.7,920.0 327.5,932.2 326.4,944.4 325.0,956.7 323.5,968.9 322.1,981.1 320.6,993.3 319.2,1005.6 317.9,1017.8 316.6,1030.0 315.5,1042.2 314.4,1054.4 313.3,1066.7 312.1,1078.9 311.0,1091.1 309.8,1103.3 308.6,1115.6 307.5,1127.8 306.3,1140.0 305.2,1152.2 303.9,1164.4 302.7,1176.7 301.6,1188.9 300.6,1201.1 299.5,1213.3 298.5,1225.6 297.5,1237.8 296.6,1250.0 299.9,1250.0 300.8,1237.8 301.7,1225.6 302.7,1213.3 303.7,1201.1 304.7,1188.9 305.7,1176.7 306.8,1164.4 308.0,1152.2 309.1,1140.0 310.2,1127.8 311.3,1115.6 312.4,1103.3 313.5,1091.1 314.6,1078.9 315.7,1066.7 316.7,1054.4 317.8,1042.2 318.9,1030.0 320.0,1017.8 321.3,1005.6 322.6,993.3 324.0,981.1 325.4,968.9 326.8,956.7 328.1,944.4 329.2,932.2 330.3,920.0 331.7,907.8 333.7,895.6 336.4,883.3 339.8,871.1 343.2,858.9 345.9,846.7 347.5,834.4 348.2,822.2 348.6,810.0" fill="#a08b78"/>
<polygon points="348.6,810.0 348.2,822.2 347.5,834.4 345.9,846.7 343.2,858.9 339.8,871.1 336.4,883.3 333.7,895.6 331.7,907.8 330.3,920.0 329.2,932.2 328.1,944.4 326.8,956.7 325.4,968.9 324.0,981.1 322.6,993.3 321.3,1005.6 320.0,1017.8 318.9,1030.0 317.8,1042.2 316.7,1054.4 315.7,1066.7 314.6,1078.9 313.5,1091.1 312.4,1103.3 311.3,1115.6 310.2,1127.8 309.1,1140.0 308.0,1152.2 306.8,1164.4 305.7,1176.7 304.7,1188.9 303.7,1201.1 302.7,1213.3 301.7,1225.6 300.8,1237.8 299.9,1250.0 315.1,1250.0 315.7,1237.8 316.5,1225.6 317.2,1213.3 317.9,1201.1 318.7,1188.9 319.4,1176.7 320.3,1164.4 321.2,1152.2 322.0,1140.0 322.8,1127.8 323.6,1115.6 324.4,1103.3 325.3,1091.1 326.1,1078.9 326.9,1066.7 327.7,1054.4 328.5,1042.2 329.3,1030.0 330.1,1017.8 331.1,1005.6 332.1,993.3 333.1,981.1 334.2,968.9 335.2,956.7 336.2,944.4 337.0,932.2 337.8,920.0 338.8,907.8 340.3,895.6 342.4,883.3 344.9,871.1 347.4,858.9 349.5,846.7 350.6,834.4 351.2,822.2 351.5,810.0" fill="#e0cec0"/>
<polygon points="351.5,810.0 351.2,822.2 350.6,834.4 349.5,846.7 347.4,858.9 344.9,871.1 342.4,883.3 340.3,895.6 338.8,907.8 337.8,920.0 337.0,932.2 336.2,944.4 335.2,956.7 334.2,968.9 333.1,981.1 332.1,993.3 331.1,1005.6 330.1,1017.8 329.3,1030.0 328.5,1042.2 327.7,1054.4 326.9,1066.7 326.1,1078.9 325.3,1091.1 324.4,1103.3 323.6,1115.6 322.8,1127.8 322.0,1140.0 321.2,1152.2 320.3,1164.4 319.4,1176.7 318.7,1188.9 317.9,1201.1 317.2,1213.3 316.5,1225.6 315.7,1237.8 315.1,1250.0 318.4,1250.0 319.0,1237.8 319.7,1225.6 320.3,1213.3 321.0,1201.1 321.7,1188.9 322.4,1176.7 323.2,1164.4 324.0,1152.2 324.8,1140.0 325.5,1127.8 326.3,1115.6 327.1,1103.3 327.8,1091.1 328.6,1078.9 329.3,1066.7 330.1,1054.4 330.8,1042.2 331.5,1030.0 332.3,1017.8 333.2,1005.6 334.1,993.3 335.1,981.1 336.1,968.9 337.0,956.7 337.9,944.4 338.7,932.2 339.4,920.0 340.4,907.8 341.8,895.6 343.7,883.3 346.0,871.1 348.4,858.9 350.3,846.7 351.3,834.4 351.8,822.2 352.1,810.0" fill="#a5907c"/>
<polygon points="352.1,810.0 351.8,822.2 351.3,834.4 350.3,846.7 348.4,858.9 346.0,871.1 343.7,883.3 341.8,895.6 340.4,907.8 339.4,920.0 338.7,932.2 337.9,944.4 337.0,956.7 336.1,968.9 335.1,981.1 334.1,993.3 333.2,1005.6 332.3,1017.8 331.5,1030.0 330.8,1042.2 330.1,1054.4 329.3,1066.7 328.6,1078.9 327.8,1091.1 327.1,1103.3 326.3,1115.6 325.5,1127.8 324.8,1140.0 324.0,1152.2 323.2,1164.4 322.4,1176.7 321.7,1188.9 321.0,1201.1 320.3,1213.3 319.7,1225.6 319.0,1237.8 318.4,1250.0 333.6,1250.0 334.0,1237.8 334.4,1225.6 334.8,1213.3 335.2,1201.1 335.7,1188.9 336.1,1176.7 336.6,1164.4 337.2,1152.2 337.6,1140.0 338.1,1127.8 338.6,1115.6 339.1,1103.3 339.6,1091.1 340.0,1078.9 340.5,1066.7 341.0,1054.4 341.5,1042.2 341.9,1030.0 342.4,1017.8 343.0,1005.6 343.6,993.3 344.2,981.1 344.8,968.9 345.4,956.7 346.0,944.4 346.5,932.2 346.9,920.0 347.6,907.8 348.4,895.6 349.6,883.3 351.1,871.1 352.6,858.9 353.8,846.7 354.5,834.4 354.8,822.2 355.0,810.0" fill="#dbc9ba"/>
<polygon points="355.0,810.0 354.8,822.2 354.5,834.4 353.8,846.7 352.6,858.9 351.1,871.1 349.6,883.3 348.4,895.6 347.6,907.8 346.9,920.0 346.5,932.2 346.0,944.4 345.4,956.7 344.8,968.9 344.2,981.1 343.6,993.3 343.0,1005.6 342.4,1017.8 341.9,1030.0 341.5,1042.2 341.0,1054.4 340.5,1066.7 340.0,1078.9 339.6,1091.1 339.1,1103.3 338.6,1115.6 338.1,1127.8 337.6,1140.0 337.2,1152.2 336.6,1164.4 336.1,1176.7 335.7,1188.9 335.2,1201.1 334.8,1213.3 334.4,1225.6 334.0,1237.8 333.6,1250.0 336.9,1250.0 337.2,1237.8 337.6,1225.6 338.0,1213.3 338.3,1201.1 338.7,1188.9 339.1,1176.7 339.6,1164.4 340.0,1152.2 340.4,1140.0 340.9,1127.8 341.3,1115.6 341.7,1103.3 342.1,1091.1 342.5,1078.9 343.0,1066.7 343.4,1054.4 343.8,1042.2 344.2,1030.0 344.6,1017.8 345.1,1005.6 345.6,993.3 346.2,981.1 346.7,968.9 347.2,956.7 347.7,944.4 348.1,932.2 348.6,920.0 349.1,907.8 349.9,895.6 350.9,883.3 352.2,871.1 353.5,858.9 354.6,846.7 355.2,834.4 355.5,822.2 355.6,810.0" fill="#9c8774"/>
<polygon points="355.6,810.0 355.5,822.2 355.2,834.4 354.6,846.7 353.5,858.9 352.2,871.1 350.9,883.3 349.9,895.6 349.1,907.8 348.6,920.0 348.1,932.2 347.7,944.4 347.2,956.7 346.7,968.9 346.2,981.1 345.6,993.3 345.1,1005.6 344.6,1017.8 344.2,1030.0 343.8,1042.2 343.4,1054.4 343.0,1066.7 342.5,1078.9 342.1,1091.1 341.7,1103.3 341.3,1115.6 340.9,1127.8 340.4,1140.0 340.0,1152.2 339.6,1164.4 339.1,1176.7 338.7,1188.9 338.3,1201.1 338.0,1213.3 337.6,1225.6 337.2,1237.8 336.9,1250.0 360.0,1250.0 360.0,1237.8 360.0,1225.6 360.0,1213.3 360.0,1201.1 360.0,1188.9 360.0,1176.7 360.0,1164.4 360.0,1152.2 360.0,1140.0 360.0,1127.8 360.0,1115.6 360.0,1103.3 360.0,1091.1 360.0,1078.9 360.0,1066.7 360.0,1054.4 360.0,1042.2 360.0,1030.0 360.0,1017.8 360.0,1005.6 360.0,993.3 360.0,981.1 360.0,968.9 360.0,956.7 360.0,944.4 360.0,932.2 360.0,920.0 360.0,907.8 360.0,895.6 360.0,883.3 360.0,871.1 360.0,858.9 360.0,846.7 360.0,834.4 360.0,822.2 360.0,810.0" fill="#d4c1b1"/>
<path d="M228,1247 Q240,1256 256,1250 Q272,1260 292,1254 Q312,1262 332,1256 Q348,1262 360,1256 L360,1244 L228,1244 Z" fill="#d9c7b8"/>
<polygon points="405.0,810.0 405.0,822.2 405.0,834.4 405.0,846.7 405.0,858.9 405.0,871.1 405.0,883.3 405.0,895.6 405.0,907.8 405.0,920.0 405.0,932.2 405.0,944.4 405.0,956.7 405.0,968.9 405.0,981.1 405.0,993.3 405.0,1005.6 405.0,1017.8 405.0,1030.0 405.0,1042.2 405.0,1054.4 405.0,1066.7 405.0,1078.9 405.0,1091.1 405.0,1103.3 405.0,1115.6 405.0,1127.8 405.0,1140.0 405.0,1152.2 405.0,1164.4 405.0,1176.7 405.0,1188.9 405.0,1201.1 405.0,1213.3 405.0,1225.6 405.0,1237.8 405.0,1250.0 415.5,1250.0 415.3,1237.8 415.0,1225.6 414.7,1213.3 414.5,1201.1 414.3,1188.9 414.0,1176.7 413.9,1164.4 413.7,1152.2 413.6,1140.0 413.5,1127.8 413.3,1115.6 413.2,1103.3 413.0,1091.1 412.8,1078.9 412.5,1066.7 412.2,1054.4 411.8,1042.2 411.4,1030.0 411.0,1017.8 410.6,1005.6 410.2,993.3 409.8,981.1 409.5,968.9 409.2,956.7 408.9,944.4 408.7,932.2 408.4,920.0 408.1,907.8 407.9,895.6 407.6,883.3 407.3,871.1 407.1,858.9 406.8,846.7 406.6,834.4 406.3,822.2 406.0,810.0" fill="#cfbcac"/>
<polygon points="406.0,810.0 406.3,822.2 406.6,834.4 406.8,846.7 407.1,858.9 407.3,871.1 407.6,883.3 407.9,895.6 408.1,907.8 408.4,920.0 408.7,932.2 408.9,944.4 409.2,956.7 409.5,968.9 409.8,981.1 410.2,993.3 410.6,1005.6 411.0,1017.8 411.4,1030.0 411.8,1042.2 412.2,1054.4 412.5,1066.7 412.8,1078.9 413.0,1091.1 413.2,1103.3 413.3,1115.6 413.5,1127.8 413.6,1140.0 413.7,1152.2 413.9,1164.4 414.0,1176.7 414.3,1188.9 414.5,1201.1 414.7,1213.3 415.0,1225.6 415.3,1237.8 415.5,1250.0 418.5,1250.0 418.2,1237.8 417.9,1225.6 417.5,1213.3 417.2,1201.1 416.9,1188.9 416.6,1176.7 416.4,1164.4 416.2,1152.2 416.1,1140.0 415.9,1127.8 415.7,1115.6 415.5,1103.3 415.3,1091.1 415.0,1078.9 414.7,1066.7 414.2,1054.4 413.7,1042.2 413.2,1030.0 412.7,1017.8 412.1,1005.6 411.6,993.3 411.2,981.1 410.8,968.9 410.4,956.7 410.1,944.4 409.7,932.2 409.4,920.0 409.0,907.8 408.7,895.6 408.4,883.3 408.0,871.1 407.7,858.9 407.3,846.7 407.0,834.4 406.7,822.2 406.4,810.0" fill="#e1d0c2"/>
<polygon points="406.4,810.0 406.7,822.2 407.0,834.4 407.3,846.7 407.7,858.9 408.0,871.1 408.4,883.3 408.7,895.6 409.0,907.8 409.4,920.0 409.7,932.2 410.1,944.4 410.4,956.7 410.8,968.9 411.2,981.1 411.6,993.3 412.1,1005.6 412.7,1017.8 413.2,1030.0 413.7,1042.2 414.2,1054.4 414.7,1066.7 415.0,1078.9 415.3,1091.1 415.5,1103.3 415.7,1115.6 415.9,1127.8 416.1,1140.0 416.2,1152.2 416.4,1164.4 416.6,1176.7 416.9,1188.9 417.2,1201.1 417.5,1213.3 417.9,1225.6 418.2,1237.8 418.5,1250.0 426.0,1250.0 425.6,1237.8 425.0,1225.6 424.5,1213.3 424.0,1201.1 423.5,1188.9 423.1,1176.7 422.8,1164.4 422.5,1152.2 422.2,1140.0 421.9,1127.8 421.7,1115.6 421.4,1103.3 421.0,1091.1 420.6,1078.9 420.0,1066.7 419.3,1054.4 418.6,1042.2 417.8,1030.0 416.9,1017.8 416.1,1005.6 415.3,993.3 414.6,981.1 414.0,968.9 413.4,956.7 412.9,944.4 412.3,932.2 411.8,920.0 411.3,907.8 410.8,895.6 410.2,883.3 409.7,871.1 409.2,858.9 408.6,846.7 408.1,834.4 407.6,822.2 407.1,810.0" fill="#a18c79"/>
<polygon points="407.1,810.0 407.6,822.2 408.1,834.4 408.6,846.7 409.2,858.9 409.7,871.1 410.2,883.3 410.8,895.6 411.3,907.8 411.8,920.0 412.3,932.2 412.9,944.4 413.4,956.7 414.0,968.9 414.6,981.1 415.3,993.3 416.1,1005.6 416.9,1017.8 417.8,1030.0 418.6,1042.2 419.3,1054.4 420.0,1066.7 420.6,1078.9 421.0,1091.1 421.4,1103.3 421.7,1115.6 421.9,1127.8 422.2,1140.0 422.5,1152.2 422.8,1164.4 423.1,1176.7 423.5,1188.9 424.0,1201.1 424.5,1213.3 425.0,1225.6 425.6,1237.8 426.0,1250.0 429.0,1250.0 428.5,1237.8 427.9,1225.6 427.3,1213.3 426.7,1201.1 426.2,1188.9 425.7,1176.7 425.3,1164.4 425.0,1152.2 424.7,1140.0 424.4,1127.8 424.0,1115.6 423.7,1103.3 423.3,1091.1 422.8,1078.9 422.2,1066.7 421.4,1054.4 420.5,1042.2 419.6,1030.0 418.6,1017.8 417.7,1005.6 416.8,993.3 416.0,981.1 415.3,968.9 414.6,956.7 414.0,944.4 413.4,932.2 412.8,920.0 412.2,907.8 411.6,895.6 411.0,883.3 410.4,871.1 409.8,858.9 409.2,846.7 408.6,834.4 408.0,822.2 407.4,810.0" fill="#e3d3c6"/>
<polygon points="407.4,810.0 408.0,822.2 408.6,834.4 409.2,846.7 409.8,858.9 410.4,871.1 411.0,883.3 411.6,895.6 412.2,907.8 412.8,920.0 413.4,932.2 414.0,944.4 414.6,956.7 415.3,968.9 416.0,981.1 416.8,993.3 417.7,1005.6 418.6,1017.8 419.6,1030.0 420.5,1042.2 421.4,1054.4 422.2,1066.7 422.8,1078.9 423.3,1091.1 423.7,1103.3 424.0,1115.6 424.4,1127.8 424.7,1140.0 425.0,1152.2 425.3,1164.4 425.7,1176.7 426.2,1188.9 426.7,1201.1 427.3,1213.3 427.9,1225.6 428.5,1237.8 429.0,1250.0 435.0,1250.0 434.4,1237.8 433.6,1225.6 432.8,1213.3 432.1,1201.1 431.4,1188.9 430.9,1176.7 430.4,1164.4 430.0,1152.2 429.6,1140.0 429.2,1127.8 428.8,1115.6 428.4,1103.3 427.8,1091.1 427.2,1078.9 426.4,1066.7 425.5,1054.4 424.4,1042.2 423.3,1030.0 422.0,1017.8 420.9,1005.6 419.8,993.3 418.8,981.1 417.9,968.9 417.1,956.7 416.3,944.4 415.5,932.2 414.7,920.0 414.0,907.8 413.2,895.6 412.5,883.3 411.7,871.1 411.0,858.9 410.2,846.7 409.5,834.4 408.7,822.2 408.0,810.0" fill="#cdbaaa"/>
<rect x="356" y="372" width="50" height="404" fill="url(#post1)"/>
<rect x="357" y="810" width="52" height="450" fill="url(#post1b)"/>
<polygon points="350,1258 357,1254 409,1254 419,1260 417,1267 352,1267" fill="#2f2e2e"/>
<g stroke="#3f3e3d" stroke-width="1" opacity="0.7"><line x1="372" y1="380" x2="372" y2="775"/><line x1="383" y1="380" x2="383" y2="775"/><line x1="375" y1="812" x2="375" y2="1255"/></g>
<rect x="349" y="775" width="60" height="36" fill="url(#tie)"/>
<rect x="334" y="775" width="16" height="36" fill="#e6dccb"/>
<polygon points="362,331 371,328 758,422 758,428 730,433 372,336" fill="#3f3e3a"/>
<polygon points="343,373 366,334 724,430 726,449 714,450 349,370" fill="#484742"/>
<polygon points="347,351 724,429 725,448 715,449 350,369" fill="url(#gutter)"/>
<polygon points="708,426 726,430 727,448 714,450 706,446" fill="#4d4b48"/>
<polyline points="583,399 581,417" stroke="#2a2928" stroke-width="2" fill="none"/>
<polyline points="349,353 724,431" stroke="#807d79" stroke-width="2.2" fill="none" opacity="0.8"/>
<polygon points="18,350 362,331 371,333 343,374 18,383" fill="url(#beamL)"/>
<polygon points="18,350 362,331 365,338 18,358" fill="#55432d"/>
<circle cx="365" cy="334" r="1.6" fill="#c9a27a"/>
<defs>
<filter id="speckle" x="0" y="0" width="100%" height="100%" color-interpolation-filters="sRGB">
 <feTurbulence type="fractalNoise" baseFrequency="0.85" numOctaves="2" seed="7" result="n"/>
 <feColorMatrix in="n" type="matrix" values="0 0 0 0 0.92  0 0 0 0 0.88  0 0 0 0 0.82  1.5 0 0 0 -0.58" result="w"/>
 <feComposite in="w" in2="SourceGraphic" operator="in" result="ws"/>
 <feColorMatrix in="n" type="matrix" values="0 0 0 0 0.15  0 0 0 0 0.12  0 0 0 0 0.1  0 1.5 0 0 -0.62" result="d"/>
 <feComposite in="d" in2="SourceGraphic" operator="in" result="ds"/>
 <feMerge><feMergeNode in="SourceGraphic"/><feMergeNode in="ws"/><feMergeNode in="ds"/></feMerge>
</filter>
<linearGradient id="amberG" x1="0" y1="0" x2="0" y2="1">
 <stop offset="0" stop-color="#edc23c"/><stop offset="0.25" stop-color="#f5b81c"/><stop offset="1" stop-color="#f6b616"/>
</linearGradient>
<linearGradient id="frameG" x1="1" y1="0" x2="0" y2="1">
 <stop offset="0" stop-color="#e6d58a"/><stop offset="0.3" stop-color="#ecc94f"/><stop offset="0.55" stop-color="#f6b81a"/><stop offset="1" stop-color="#f6b616"/>
</linearGradient>
<linearGradient id="p1post" gradientUnits="userSpaceOnUse" x1="1121" y1="0" x2="1229" y2="0">
 <stop offset="0" stop-color="#6a5030"/><stop offset="0.18" stop-color="#7d5f3c"/><stop offset="0.36" stop-color="#73573a"/><stop offset="0.5" stop-color="#957249"/><stop offset="0.64" stop-color="#86683f"/><stop offset="0.8" stop-color="#7a5c38"/><stop offset="1" stop-color="#68502f"/>
</linearGradient>
<linearGradient id="p1curt" gradientUnits="userSpaceOnUse" x1="1040" y1="0" x2="1150" y2="0">
 <stop offset="0" stop-color="#dccfc4"/><stop offset="0.45" stop-color="#d9cbc0"/><stop offset="0.75" stop-color="#cbbbad"/><stop offset="1" stop-color="#b09c8a"/>
</linearGradient>
<linearGradient id="p1curtR" gradientUnits="userSpaceOnUse" x1="1215" y1="0" x2="1300" y2="0">
 <stop offset="0" stop-color="#b5a08e"/><stop offset="0.3" stop-color="#d6c8bc"/><stop offset="0.7" stop-color="#ddd0c6"/><stop offset="1" stop-color="#d0c1b4"/>
</linearGradient>
<linearGradient id="p2roofL" gradientUnits="userSpaceOnUse" x1="950" y1="560" x2="1200" y2="620">
 <stop offset="0" stop-color="#9fb1c8"/><stop offset="1" stop-color="#a9bbd4"/>
</linearGradient>
<linearGradient id="p2roofR" gradientUnits="userSpaceOnUse" x1="1200" y1="560" x2="1420" y2="600">
 <stop offset="0" stop-color="#a3b6d2"/><stop offset="1" stop-color="#b4c2d6"/>
</linearGradient>
<linearGradient id="p3postL" gradientUnits="userSpaceOnUse" x1="1090" y1="0" x2="1175" y2="0">
 <stop offset="0" stop-color="#5f534a"/><stop offset="1" stop-color="#6f6258"/>
</linearGradient>
<linearGradient id="p3postR" gradientUnits="userSpaceOnUse" x1="1172" y1="0" x2="1305" y2="0">
 <stop offset="0" stop-color="#82756b"/><stop offset="0.5" stop-color="#7b6e65"/><stop offset="1" stop-color="#6e625a"/>
</linearGradient>
<linearGradient id="plate" gradientUnits="userSpaceOnUse" x1="1100" y1="1150" x2="1260" y2="1330">
 <stop offset="0" stop-color="#665a52"/><stop offset="0.5" stop-color="#74675e"/><stop offset="1" stop-color="#62564e"/>
</linearGradient>
</defs>
<clipPath id="fclip0"><path d="M972.4,63.8 L1413.1,63.8 Q1422.1,63.8 1420.7,72.8 L1373.2,376.0 Q1368.4,389.0 1359.0,390.0 L912.4,390.0 Q901.4,390.0 904.0,381.0 L959.7,72.8 Q961.4,63.8 972.4,63.8 Z"/></clipPath>
<clipPath id="oclip0"><path d="M971.0,62.5 L1413.5,62.5 Q1423.5,62.5 1421.9,72.5 L1374.4,376.0 Q1369.6,389.0 1362.7,390.0 L1356.2,397.5 Q1354.2,400.5 1347.2,400.5 L900.0,400.5 Q887.0,400.5 890.1,390.5 L956.9,72.5 Q959.0,62.5 971.0,62.5 Z"/></clipPath>
<clipPath id="fclip1"><path d="M972.4,551.3 L1413.1,551.3 Q1422.1,551.3 1420.7,560.3 L1373.3,859.5 Q1368.4,872.5 1359.1,873.5 L912.4,873.5 Q901.4,873.5 904.1,864.5 L959.7,560.3 Q961.4,551.3 972.4,551.3 Z"/></clipPath>
<clipPath id="oclip1"><path d="M971.0,550.0 L1413.5,550.0 Q1423.5,550.0 1421.9,560.0 L1374.5,859.5 Q1369.6,872.5 1362.8,873.5 L1356.3,881.0 Q1354.3,884.0 1347.3,884.0 L900.0,884.0 Q887.0,884.0 890.1,874.0 L956.9,560.0 Q959.0,550.0 971.0,550.0 Z"/></clipPath>
<clipPath id="fclip2"><path d="M972.4,1005.8 L1413.1,1005.8 Q1422.1,1005.8 1420.7,1014.8 L1373.2,1317.0 Q1368.4,1330.0 1359.0,1331.0 L912.4,1331.0 Q901.4,1331.0 904.0,1322.0 L959.7,1014.8 Q961.4,1005.8 972.4,1005.8 Z"/></clipPath>
<clipPath id="oclip2"><path d="M971.0,1004.5 L1413.5,1004.5 Q1423.5,1004.5 1421.9,1014.5 L1374.4,1317.0 Q1369.6,1330.0 1362.7,1331.0 L1356.2,1338.5 Q1354.2,1341.5 1347.2,1341.5 L900.0,1341.5 Q887.0,1341.5 890.1,1331.5 L956.9,1014.5 Q959.0,1004.5 971.0,1004.5 Z"/></clipPath>
<path d="M971.0,62.5 L1413.5,62.5 Q1423.5,62.5 1421.9,72.5 L1374.4,376.0 Q1369.6,389.0 1362.7,390.0 L1356.2,397.5 Q1354.2,400.5 1347.2,400.5 L900.0,400.5 Q887.0,400.5 890.1,390.5 L956.9,72.5 Q959.0,62.5 971.0,62.5 Z" fill="#e2cf7e"/>
<g clip-path="url(#oclip0)"><polygon points="945.0,65.5 1000.0,65.5 935.0,390.0 1440,390.0 1440,402.5 870,402.5" fill="url(#amberG)"/></g>
<path d="M972.4,63.8 L1413.1,63.8 Q1422.1,63.8 1420.7,72.8 L1373.2,376.0 Q1368.4,389.0 1359.0,390.0 L912.4,390.0 Q901.4,390.0 904.0,381.0 L959.7,72.8 Q961.4,63.8 972.4,63.8 Z" fill="#ffffff"/>
<g clip-path="url(#fclip0)">
<polygon points="1058,60 1150,60 1150,200 1099,200 1096,171 1083,138 1072,95" fill="url(#p1curt)"/>
<polygon points="1058,60 1070,60 1086,120 1098,171 1094,171 1080,130" fill="#e8dfd6"/>
<g fill="none" stroke="#7a6750" stroke-width="1.6" opacity="0.85"><polyline points="1088,62 1100,120 1112,173"/><polyline points="1102,62 1112,120 1121,175"/><polyline points="1114,62 1124,130 1131,178"/></g>
<polygon points="1102,62 1114,62 1131,178 1121,175" fill="#c2b199" opacity="0.7"/>
<polygon points="1094,250 1160,270 1150,395 1034,395 1046,370 1062,342 1081,300" fill="url(#p1curt)"/>
<polygon points="1097,270 1114,279 1091,395 1072,395" fill="#a38b76" opacity="0.8"/>
<polygon points="1093,262 1100,268 1060,395 1034,395 1062,342 1081,300" fill="#e3d8ce" opacity="0.8"/>
<polygon points="1140,288 1158,294 1150,395 1136,395" fill="#b8a78e" opacity="0.8"/>
<g fill="none" stroke="#6d5b45" stroke-width="1.6" opacity="0.85"><polyline points="1133,286 1122,340 1114,392"/><polyline points="1145,292 1139,340 1135,392"/><polyline points="1100,272 1082,330 1064,392"/></g>
<polygon points="1210,60 1277,60 1265,118 1249,168 1247,200 1210,200" fill="url(#p1curtR)"/>
<g fill="none" stroke="#7a6750" stroke-width="1.6" opacity="0.85"><polyline points="1241,62 1236,120 1232,173"/><polyline points="1250,62 1244,120 1239,171"/><polyline points="1264,62 1255,110 1246,168"/></g>
<polygon points="1229,62 1241,62 1232,176 1224,178" fill="#b5a389" opacity="0.7"/>
<polygon points="1210,255 1247,255 1258,286 1277,331 1296,395 1210,395" fill="url(#p1curtR)"/>
<polygon points="1215,298 1232,294 1240,395 1215,395" fill="#a8967b" opacity="0.7"/>
<g fill="none" stroke="#6d5b45" stroke-width="1.6" opacity="0.85"><polyline points="1233,295 1237,340 1241,392"/><polyline points="1253,290 1264,340 1275,392"/></g>
<polygon points="1250,272 1258,286 1277,331 1296,395 1284,395 1268,335" fill="#cbbda6" opacity="0.8"/>
<polygon points="1121,60 1229,60 1226,200 1219,395 1147,395 1140,200" fill="url(#p1post)"/>
<g stroke="#5f4526" stroke-width="1.5" opacity="0.7"><line x1="1148" y1="62" x2="1152" y2="395"/><line x1="1163" y1="62" x2="1166" y2="395"/><line x1="1197" y1="62" x2="1196" y2="395"/><line x1="1210" y1="62" x2="1207" y2="395"/></g>
<polygon points="1091,170 1157,188 1157,296 1091,264" fill="#dad1c7"/>
<polygon points="1091,170 1100,172 1100,268 1091,264" fill="#cfc5ba"/>
<polygon points="1158,191 1186,191 1249,166 1250,267 1183,302 1160,295" fill="#d5cbc0"/>
<polygon points="1186,191 1249,166 1250,267 1183,302" fill="#d9d0c6"/>
<polyline points="1158,190 1159,296" stroke="#5a4a3a" stroke-width="2.5" fill="none"/>
<polyline points="1186,192 1184,301" stroke="#c4b9ad" stroke-width="1.5" fill="none"/>
</g>
<path d="M971.0,550.0 L1413.5,550.0 Q1423.5,550.0 1421.9,560.0 L1374.5,859.5 Q1369.6,872.5 1362.8,873.5 L1356.3,881.0 Q1354.3,884.0 1347.3,884.0 L900.0,884.0 Q887.0,884.0 890.1,874.0 L956.9,560.0 Q959.0,550.0 971.0,550.0 Z" fill="#e2cf7e"/>
<g clip-path="url(#oclip1)"><polygon points="945.0,553.0 1000.0,553.0 935.0,873.5 1440,873.5 1440,886.0 870,886.0" fill="url(#amberG)"/></g>
<path d="M972.4,551.3 L1413.1,551.3 Q1422.1,551.3 1420.7,560.3 L1373.3,859.5 Q1368.4,872.5 1359.1,873.5 L912.4,873.5 Q901.4,873.5 904.1,864.5 L959.7,560.3 Q961.4,551.3 972.4,551.3 Z" fill="#ffffff"/>
<g clip-path="url(#fclip1)">
<polygon points="1000,640 1152,650 1152,880 1040,880 1036,800 1020,720" fill="#ddd4c9"/>
<g stroke="#a4978a" stroke-width="3.5" fill="none" opacity="0.75"><polyline points="1040,660 1046,760 1058,880"/><polyline points="1068,655 1070,770 1078,880"/><polyline points="1092,655 1096,760 1094,880"/><polyline points="1112,655 1116,770 1120,880"/><polyline points="1134,655 1136,880"/></g>
<polygon points="1020,700 1040,720 1060,880 1040,880" fill="#c9bfb2"/>
<polygon points="1222,655 1340,640 1318,700 1312,760 1304,880 1225,880" fill="#dfd6cb"/>
<g stroke="#a4978a" stroke-width="3.5" fill="none" opacity="0.75"><polyline points="1240,660 1236,760 1232,880"/><polyline points="1262,655 1254,770 1250,880"/><polyline points="1286,652 1272,760 1270,880"/><polyline points="1306,650 1292,770 1290,880"/></g>
<polygon points="940,548 1170,548 1211,619 940,612" fill="url(#p2roofL)"/>
<polygon points="1170,548 1430,548 1416,600 1211,619" fill="url(#p2roofR)"/>
<polyline points="1170,548 1211,617" stroke="#8893a3" stroke-width="2.5" fill="none" opacity="0.8"/>
<polyline points="1174,548 1215,616" stroke="#c9d3e0" stroke-width="1.5" fill="none"/>
<polygon points="940,612 1208,619 1200,664 940,632" fill="#5c3d25"/>
<polygon points="940,612 1208,619 1206,630 940,622" fill="#6f4a2c"/>
<polygon points="940,627 1200,651 1199,664 940,633" fill="#3e2a1c"/>
<polygon points="1208,619 1418,599 1410,631 1216,660 1200,664" fill="#5a3b24"/>
<polygon points="1208,619 1418,599 1416,608 1212,630" fill="#6d482b"/>
<polygon points="1214,646 1411,620 1409,632 1216,660" fill="#3b281b"/>
<polygon points="1199,610 1213,608 1221,620 1212,632 1203,630 1197,620" fill="#5a4433"/>
<circle cx="1210" cy="623" r="3.2" fill="#2a211b"/>
<rect x="1150" y="656" width="48" height="230" fill="#7b6448" filter="url(#speckle)"/>
<g stroke="#5e4b35" stroke-width="1.5" opacity="0.8"><line x1="1163" y1="660" x2="1163" y2="884"/><line x1="1175" y1="660" x2="1175" y2="884"/><line x1="1187" y1="660" x2="1187" y2="884"/></g>
<rect x="1196" y="660" width="27" height="226" fill="#39332b"/>
<rect x="1201" y="662" width="4" height="224" fill="#57503f"/><rect x="1211" y="662" width="3" height="224" fill="#524a3c"/>
<polygon points="989,636 999,636 1150,838 1150,852" fill="#5f452d"/>
<polygon points="1338,640 1349,642 1232,852 1224,856 1224,842" fill="#5a4530"/>
<polygon points="1012,643 1147,655 1147,828" fill="none" stroke="#c9a526" stroke-width="5.5" stroke-linejoin="round" stroke-dasharray="13 5" opacity="0.9"/>
<polygon points="1012,643 1147,655 1147,828" fill="none" stroke="#f8db45" stroke-width="3.6" stroke-linejoin="round" stroke-dasharray="12 6"/>
<polygon points="1225,660 1335,644 1229,840" fill="none" stroke="#b8921a" stroke-width="9" stroke-linejoin="round"/>
<polygon points="1225,660 1335,644 1229,840" fill="none" stroke="#f8d92c" stroke-width="6" stroke-linejoin="round"/>
</g>
<path d="M971.0,1004.5 L1413.5,1004.5 Q1423.5,1004.5 1421.9,1014.5 L1374.4,1317.0 Q1369.6,1330.0 1362.7,1331.0 L1356.2,1338.5 Q1354.2,1341.5 1347.2,1341.5 L900.0,1341.5 Q887.0,1341.5 890.1,1331.5 L956.9,1014.5 Q959.0,1004.5 971.0,1004.5 Z" fill="#e2cf7e"/>
<g clip-path="url(#oclip2)"><polygon points="945.0,1007.5 1000.0,1007.5 935.0,1331.0 1440,1331.0 1440,1343.5 870,1343.5" fill="url(#amberG)"/></g>
<path d="M972.4,1005.8 L1413.1,1005.8 Q1422.1,1005.8 1420.7,1014.8 L1373.2,1317.0 Q1368.4,1330.0 1359.0,1331.0 L912.4,1331.0 Q901.4,1331.0 904.0,1322.0 L959.7,1014.8 Q961.4,1005.8 972.4,1005.8 Z" fill="#ffffff"/>
<g clip-path="url(#fclip2)">
<g filter="url(#speckle)">
<path d="M1050,1148 Q1090,1136 1108,1140 L1290,1140 Q1330,1160 1352,1192 Q1360,1206 1346,1218 L1214,1318 Q1196,1330 1170,1322 L1048,1238 Q1028,1222 1030,1196 Q1032,1160 1050,1148 Z" fill="url(#plate)"/>
<path d="M1048,1232 L1170,1316 Q1196,1324 1214,1312 L1346,1212 L1348,1218 L1214,1320 Q1196,1331 1170,1323 L1048,1240 Z" fill="#4a3f37"/>
<path d="M1100,1230 L1176,1284 Q1192,1292 1208,1282 L1300,1222" fill="none" stroke="#a39484" stroke-width="8" opacity="0.55" stroke-linecap="round"/>
<path d="M1090,1196 L1174,1262 L1292,1196" fill="none" stroke="#4a3e35" stroke-width="4" opacity="0.8"/>
<ellipse cx="1097" cy="1252" rx="5" ry="4" fill="#f4f1ec"/><ellipse cx="1272" cy="1266" rx="5" ry="4" fill="#f4f1ec"/>
<polygon points="1090,1000 1173,1000 1176,1262 1096,1186" fill="url(#p3postL)"/>
<polygon points="1173,1000 1306,1000 1289,1198 1176,1262" fill="url(#p3postR)"/>
<g stroke="#3a2d27" stroke-width="1.8" opacity="0.9"><line x1="1100" y1="1004" x2="1106" y2="1194"/><line x1="1121" y1="1004" x2="1127" y2="1214"/><line x1="1145" y1="1004" x2="1150" y2="1236"/><line x1="1203" y1="1004" x2="1205" y2="1245"/><line x1="1236" y1="1004" x2="1234" y2="1228"/><line x1="1266" y1="1004" x2="1259" y2="1214"/></g>
<polyline points="1173,1004 1176,1262" stroke="#a08b74" stroke-width="3" fill="none" opacity="0.8"/>
</g>
<circle cx="1139" cy="1210" r="4.5" fill="#c9c9c9" stroke="#555" stroke-width="1"/><circle cx="1238" cy="1217" r="4.5" fill="#c9c9c9" stroke="#555" stroke-width="1"/>
<polygon points="1013,1152 1060,1196 1068,1183 1087,1245 1030,1224 1046,1214" fill="#f5b414"/>
<polygon points="1345,1153 1317,1226 1332,1222 1283,1254 1288,1192 1299,1204" fill="#f5b414"/>
<g><rect x="986" y="1112" width="11" height="66" rx="2" fill="#d3d5d8" stroke="#8d9094" stroke-width="1"/><rect x="988" y="1115" width="3" height="60" fill="#f4f5f6"/><rect x="983" y="1108" width="17" height="4" fill="#9a9da1"/><rect x="986" y="1099" width="11" height="8" fill="#a4a7ab" stroke="#6d7074" stroke-width="1"/><rect x="989" y="1091" width="5" height="8" fill="#8a8d91"/></g>
<g><rect x="1362" y="1098" width="11" height="66" rx="2" fill="#d3d5d8" stroke="#8d9094" stroke-width="1"/><rect x="1364" y="1101" width="3" height="60" fill="#f4f5f6"/><rect x="1359" y="1094" width="17" height="4" fill="#9a9da1"/><rect x="1362" y="1085" width="11" height="8" fill="#a4a7ab" stroke="#6d7074" stroke-width="1"/><rect x="1365" y="1077" width="5" height="8" fill="#8a8d91"/></g>
</g>
<rect x="717" y="76.0" width="380" height="60.5" rx="28.5" ry="28.5" fill="#292929" fill-opacity="0.9"/>
<circle cx="733.5" cy="106.3" r="7.2" fill="#ffffff"/>
<rect x="717" y="564.0" width="380" height="60.5" rx="28.5" ry="28.5" fill="#292929" fill-opacity="0.9"/>
<circle cx="733.5" cy="594.2" r="7.2" fill="#ffffff"/>
<rect x="717" y="1015.5" width="380" height="60.5" rx="28.5" ry="28.5" fill="#292929" fill-opacity="0.9"/>
<circle cx="733.5" cy="1046.0" r="7.2" fill="#ffffff"/>
<g opacity="0.999">
<text x="749.3" y="119.8" font-size="41" font-weight="bold" fill="#ffffff" textLength="331.5" lengthAdjust="spacingAndGlyphs">Aluminum Frame</text>
<text x="749.3" y="605.2" font-size="41" font-weight="bold" fill="#ffffff" textLength="340.5" lengthAdjust="spacingAndGlyphs">Sturdy Triangular</text>
<text x="749.3" y="1057.5" font-size="41" font-weight="bold" fill="#ffffff" textLength="335.5" lengthAdjust="spacingAndGlyphs">Anchoring Plates</text>
<text x="898.5" y="443.6" font-size="31" fill="#262626" textLength="467" lengthAdjust="spacingAndGlyphs">Weather-resistant and prevents</text>
<text x="952.5" y="486.4" font-size="31" fill="#262626" textLength="360.5" lengthAdjust="spacingAndGlyphs">fade, rust, and corrosion</text>
<text x="976" y="927.6" font-size="31" fill="#262626" textLength="330" lengthAdjust="spacingAndGlyphs">Ensure overall stability</text>
<text x="956" y="1376.8" font-size="31" fill="#262626" textLength="368" lengthAdjust="spacingAndGlyphs">Pre-drilled holes for easy</text>
<text x="994" y="1417.6" font-size="31" fill="#262626" textLength="291" lengthAdjust="spacingAndGlyphs">mounting and fixing</text>
</g>
</svg>
</body></html>
